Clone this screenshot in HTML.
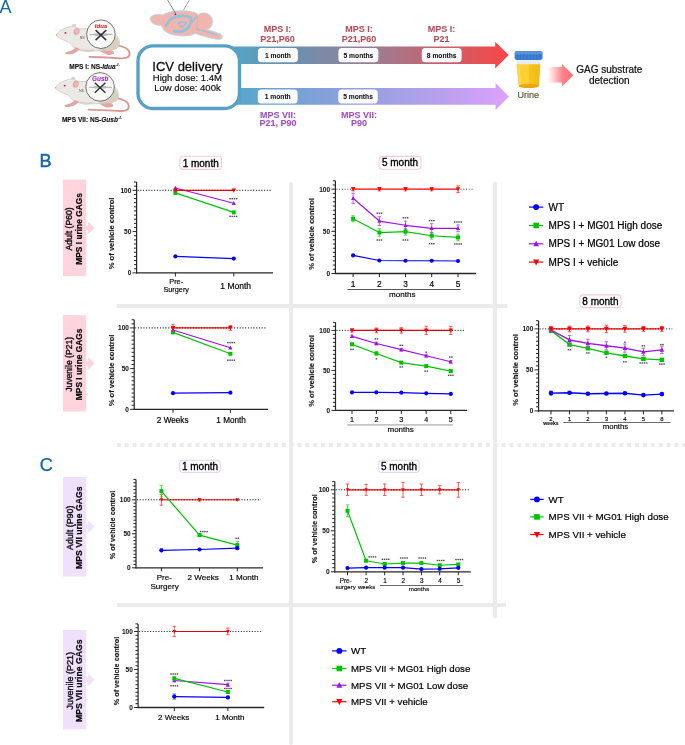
<!DOCTYPE html>
<html><head><meta charset="utf-8"><style>
html,body{margin:0;padding:0;background:#fff;}
svg{display:block;font-family:"Liberation Sans", sans-serif;will-change:transform;}
</style></head><body>
<svg width="685" height="745" viewBox="0 0 685 745">
<rect x="289" y="182" width="4" height="563" rx="2" fill="#ebebeb"/>
<rect x="493" y="182" width="4" height="436" rx="2" fill="#ebebeb"/>
<rect x="117" y="304" width="390" height="4" fill="#ebebeb"/>
<rect x="117" y="603" width="389" height="4" fill="#ebebeb"/>
<line x1="117" y1="445" x2="685" y2="445" stroke="#ebebeb" stroke-width="4" stroke-dasharray="4 3.85"/>
<text x="-0.5" y="13" font-size="18" font-weight="normal" text-anchor="start" fill="#1268a4" stroke="none">A</text>
<text x="39.5" y="166.9" font-size="18" font-weight="normal" text-anchor="start" fill="#1268a4" stroke="#1268a4" stroke-width="0.5">B</text>
<text x="39.8" y="471" font-size="18" font-weight="normal" text-anchor="start" fill="#1268a4" stroke="#1268a4" stroke-width="0.25">C</text>
<rect x="63" y="179.6" width="23.2" height="96.6" fill="#ffd4dd"/>
<polygon points="86.2,225.6 88.2,225.6 88.2,221.6 94.5,227.9 88.2,234.2 88.2,230.2 86.2,230.2" fill="#ffd4dd"/>
<text transform="translate(71.9,228.9) rotate(-90)" font-size="8.6" text-anchor="middle" fill="#111" stroke="#111" stroke-width="0.4">Adult (P60)</text>
<text transform="translate(82.2,228.9) rotate(-90)" x="0" y="0" font-size="8.4" font-weight="bold" text-anchor="middle" fill="#000" stroke="#000" stroke-width="0.18">MPS I urine GAGs</text>
<rect x="63" y="315.2" width="23.2" height="96.3" fill="#ffd4dd"/>
<polygon points="86.2,361.05 88.2,361.05 88.2,357.05 94.5,363.35 88.2,369.65 88.2,365.65 86.2,365.65" fill="#ffd4dd"/>
<text transform="translate(71.9,364.35) rotate(-90)" font-size="8.6" text-anchor="middle" fill="#111" stroke="#111" stroke-width="0.4">Juvenile (P21)</text>
<text transform="translate(82.2,364.35) rotate(-90)" x="0" y="0" font-size="8.4" font-weight="bold" text-anchor="middle" fill="#000" stroke="#000" stroke-width="0.18">MPS I urine GAGs</text>
<rect x="63" y="477" width="23.2" height="99.5" fill="#efe0fc"/>
<polygon points="86.2,524.45 88.2,524.45 88.2,520.45 94.5,526.75 88.2,533.05 88.2,529.05 86.2,529.05" fill="#efe0fc"/>
<text transform="translate(73,527.75) rotate(-90)" font-size="8.9" text-anchor="middle" fill="#111" stroke="#111" stroke-width="0.4">Adult (P90)</text>
<text transform="translate(82.2,527.75) rotate(-90)" x="0" y="0" font-size="8.7" font-weight="bold" text-anchor="middle" fill="#000" stroke="#000" stroke-width="0.18">MPS VII urine GAGs</text>
<rect x="63" y="630" width="23.2" height="99.3" fill="#efe0fc"/>
<polygon points="86.2,677.35 88.2,677.35 88.2,673.35 94.5,679.65 88.2,685.95 88.2,681.95 86.2,681.95" fill="#efe0fc"/>
<text transform="translate(73,680.65) rotate(-90)" font-size="9" text-anchor="middle" fill="#111" stroke="#111" stroke-width="0.4">Juvenile (P21)</text>
<text transform="translate(82.2,680.65) rotate(-90)" x="0" y="0" font-size="8.7" font-weight="bold" text-anchor="middle" fill="#000" stroke="#000" stroke-width="0.18">MPS VII urine GAGs</text>
<rect x="179.85" y="156.3" width="41.7" height="13.1" rx="3.5" fill="#fff" stroke="#ffc9d5" stroke-width="1.1"/>
<text x="200.7" y="166.5" font-size="10" font-weight="normal" text-anchor="middle" fill="#000" stroke="#000" stroke-width="0.33">1 month</text>
<rect x="379" y="156.4" width="42" height="12.9" rx="3.5" fill="#fff" stroke="#ffc9d5" stroke-width="1.1"/>
<text x="400" y="166.4" font-size="10" font-weight="normal" text-anchor="middle" fill="#000" stroke="#000" stroke-width="0.33">5 month</text>
<rect x="579.75" y="294.9" width="41.3" height="12.7" rx="3.5" fill="#fff" stroke="#ffc9d5" stroke-width="1.1"/>
<text x="600.4" y="304.7" font-size="10" font-weight="normal" text-anchor="middle" fill="#000" stroke="#000" stroke-width="0.33">8 month</text>
<rect x="179.75" y="460.3" width="40.5" height="12.2" rx="3.5" fill="#fff" stroke="#e6d2fb" stroke-width="1.1"/>
<text x="200" y="469.6" font-size="10" font-weight="normal" text-anchor="middle" fill="#000" stroke="#000" stroke-width="0.33">1 month</text>
<rect x="378.75" y="460.3" width="40.5" height="12.2" rx="3.5" fill="#fff" stroke="#e6d2fb" stroke-width="1.1"/>
<text x="399" y="469.6" font-size="10" font-weight="normal" text-anchor="middle" fill="#000" stroke="#000" stroke-width="0.33">5 month</text>
<line x1="136.6" y1="182.04" x2="136.6" y2="273.5" stroke="#262626" stroke-width="1.2"/>
<line x1="132.6" y1="272.9" x2="136.6" y2="272.9" stroke="#262626" stroke-width="1"/>
<text x="131.3" y="275.2" font-size="6.5" font-weight="bold" text-anchor="end" fill="#1a1a1a"  stroke="#1a1a1a" stroke-width="0.07">0</text>
<line x1="134" y1="268.77" x2="136.6" y2="268.77" stroke="#262626" stroke-width="1"/>
<line x1="134" y1="264.64" x2="136.6" y2="264.64" stroke="#262626" stroke-width="1"/>
<line x1="134" y1="260.51" x2="136.6" y2="260.51" stroke="#262626" stroke-width="1"/>
<line x1="134" y1="256.38" x2="136.6" y2="256.38" stroke="#262626" stroke-width="1"/>
<line x1="134" y1="252.25" x2="136.6" y2="252.25" stroke="#262626" stroke-width="1"/>
<line x1="134" y1="248.12" x2="136.6" y2="248.12" stroke="#262626" stroke-width="1"/>
<line x1="134" y1="243.99" x2="136.6" y2="243.99" stroke="#262626" stroke-width="1"/>
<line x1="134" y1="239.86" x2="136.6" y2="239.86" stroke="#262626" stroke-width="1"/>
<line x1="134" y1="235.73" x2="136.6" y2="235.73" stroke="#262626" stroke-width="1"/>
<line x1="132.6" y1="231.6" x2="136.6" y2="231.6" stroke="#262626" stroke-width="1"/>
<text x="131.3" y="233.9" font-size="6.5" font-weight="bold" text-anchor="end" fill="#1a1a1a"  stroke="#1a1a1a" stroke-width="0.07">50</text>
<line x1="134" y1="227.47" x2="136.6" y2="227.47" stroke="#262626" stroke-width="1"/>
<line x1="134" y1="223.34" x2="136.6" y2="223.34" stroke="#262626" stroke-width="1"/>
<line x1="134" y1="219.21" x2="136.6" y2="219.21" stroke="#262626" stroke-width="1"/>
<line x1="134" y1="215.08" x2="136.6" y2="215.08" stroke="#262626" stroke-width="1"/>
<line x1="134" y1="210.95" x2="136.6" y2="210.95" stroke="#262626" stroke-width="1"/>
<line x1="134" y1="206.82" x2="136.6" y2="206.82" stroke="#262626" stroke-width="1"/>
<line x1="134" y1="202.69" x2="136.6" y2="202.69" stroke="#262626" stroke-width="1"/>
<line x1="134" y1="198.56" x2="136.6" y2="198.56" stroke="#262626" stroke-width="1"/>
<line x1="134" y1="194.43" x2="136.6" y2="194.43" stroke="#262626" stroke-width="1"/>
<line x1="132.6" y1="190.3" x2="136.6" y2="190.3" stroke="#262626" stroke-width="1"/>
<text x="131.3" y="192.6" font-size="6.5" font-weight="bold" text-anchor="end" fill="#1a1a1a"  stroke="#1a1a1a" stroke-width="0.07">100</text>
<line x1="134" y1="186.17" x2="136.6" y2="186.17" stroke="#262626" stroke-width="1"/>
<line x1="134" y1="182.04" x2="136.6" y2="182.04" stroke="#262626" stroke-width="1"/>
<line x1="136" y1="272.9" x2="273" y2="272.9" stroke="#262626" stroke-width="1.3"/>
<line x1="175.4" y1="272.9" x2="175.4" y2="276.4" stroke="#262626" stroke-width="1"/>
<line x1="233.8" y1="272.9" x2="233.8" y2="276.4" stroke="#262626" stroke-width="1"/>
<line x1="137.6" y1="190.3" x2="271.2" y2="190.3" stroke="#222" stroke-width="0.9" stroke-dasharray="1 1.75"/>
<polyline points="175.4,256.46 233.8,258.53" fill="none" stroke="#0000ff" stroke-width="1.2" stroke-linejoin="round"/>
<circle cx="175.4" cy="256.46" r="2.1" fill="#0000ff"/>
<circle cx="233.8" cy="258.53" r="2.1" fill="#0000ff"/>
<polyline points="175.4,192.94 233.8,212.35" fill="none" stroke="#00c400" stroke-width="1.2" stroke-linejoin="round"/>
<rect x="173.4" y="190.94" width="4" height="4" fill="#00c400"/>
<rect x="231.8" y="210.35" width="4" height="4" fill="#00c400"/>
<polyline points="175.4,187.99 233.8,203.27" fill="none" stroke="#a010e8" stroke-width="1.2" stroke-linejoin="round"/>
<polygon points="175.4,185.73 173.35,189.73 177.45,189.73" fill="#a010e8"/>
<polygon points="233.8,201.01 231.75,205.01 235.85,205.01" fill="#a010e8"/>
<polyline points="175.4,190.3 233.8,190.3" fill="none" stroke="#ff0000" stroke-width="1.2" stroke-linejoin="round"/>
<polygon points="175.4,192.72 173.2,188.43 177.6,188.43" fill="#ff0000"/>
<polygon points="233.8,192.72 231.6,188.43 236,188.43" fill="#ff0000"/>
<line x1="137.6" y1="190.3" x2="271.2" y2="190.3" stroke="#222" opacity="0.5249999999999999" stroke-width="0.9" stroke-dasharray="1 1.75"/>
<rect x="229.33" y="198" width="1.5" height="1.4" fill="#4d4d4d"/>
<rect x="231.48" y="198" width="1.5" height="1.4" fill="#4d4d4d"/>
<rect x="233.63" y="198" width="1.5" height="1.4" fill="#4d4d4d"/>
<rect x="235.78" y="198" width="1.5" height="1.4" fill="#4d4d4d"/>
<rect x="229.33" y="215.7" width="1.5" height="1.4" fill="#4d4d4d"/>
<rect x="231.48" y="215.7" width="1.5" height="1.4" fill="#4d4d4d"/>
<rect x="233.63" y="215.7" width="1.5" height="1.4" fill="#4d4d4d"/>
<rect x="235.78" y="215.7" width="1.5" height="1.4" fill="#4d4d4d"/>
<text transform="translate(113.9,233.4) rotate(-90)" x="0" y="0" font-size="7.6" font-weight="bold" text-anchor="middle" fill="#1a1a1a" stroke="#1a1a1a" stroke-width="0.18">% of vehicle control</text>
<text x="176.2" y="283.6" font-size="7.3" font-weight="normal" text-anchor="middle" fill="#000"  stroke="#000" stroke-width="0.16">Pre-</text>
<text x="176.2" y="291.5" font-size="7.3" font-weight="normal" text-anchor="middle" fill="#000"  stroke="#000" stroke-width="0.16">Surgery</text>
<text x="235.7" y="288.5" font-size="8.5" font-weight="normal" text-anchor="middle" fill="#000"  stroke="#000" stroke-width="0.19">1 Month</text>
<line x1="335.4" y1="180.77" x2="335.4" y2="274.1" stroke="#262626" stroke-width="1.2"/>
<line x1="331.4" y1="273.5" x2="335.4" y2="273.5" stroke="#262626" stroke-width="1"/>
<text x="330.1" y="275.8" font-size="6.5" font-weight="bold" text-anchor="end" fill="#1a1a1a"  stroke="#1a1a1a" stroke-width="0.07">0</text>
<line x1="332.8" y1="269.29" x2="335.4" y2="269.29" stroke="#262626" stroke-width="1"/>
<line x1="332.8" y1="265.07" x2="335.4" y2="265.07" stroke="#262626" stroke-width="1"/>
<line x1="332.8" y1="260.86" x2="335.4" y2="260.86" stroke="#262626" stroke-width="1"/>
<line x1="332.8" y1="256.64" x2="335.4" y2="256.64" stroke="#262626" stroke-width="1"/>
<line x1="332.8" y1="252.43" x2="335.4" y2="252.43" stroke="#262626" stroke-width="1"/>
<line x1="332.8" y1="248.21" x2="335.4" y2="248.21" stroke="#262626" stroke-width="1"/>
<line x1="332.8" y1="244" x2="335.4" y2="244" stroke="#262626" stroke-width="1"/>
<line x1="332.8" y1="239.78" x2="335.4" y2="239.78" stroke="#262626" stroke-width="1"/>
<line x1="332.8" y1="235.56" x2="335.4" y2="235.56" stroke="#262626" stroke-width="1"/>
<line x1="331.4" y1="231.35" x2="335.4" y2="231.35" stroke="#262626" stroke-width="1"/>
<text x="330.1" y="233.65" font-size="6.5" font-weight="bold" text-anchor="end" fill="#1a1a1a"  stroke="#1a1a1a" stroke-width="0.07">50</text>
<line x1="332.8" y1="227.13" x2="335.4" y2="227.13" stroke="#262626" stroke-width="1"/>
<line x1="332.8" y1="222.92" x2="335.4" y2="222.92" stroke="#262626" stroke-width="1"/>
<line x1="332.8" y1="218.7" x2="335.4" y2="218.7" stroke="#262626" stroke-width="1"/>
<line x1="332.8" y1="214.49" x2="335.4" y2="214.49" stroke="#262626" stroke-width="1"/>
<line x1="332.8" y1="210.28" x2="335.4" y2="210.28" stroke="#262626" stroke-width="1"/>
<line x1="332.8" y1="206.06" x2="335.4" y2="206.06" stroke="#262626" stroke-width="1"/>
<line x1="332.8" y1="201.84" x2="335.4" y2="201.84" stroke="#262626" stroke-width="1"/>
<line x1="332.8" y1="197.63" x2="335.4" y2="197.63" stroke="#262626" stroke-width="1"/>
<line x1="332.8" y1="193.42" x2="335.4" y2="193.42" stroke="#262626" stroke-width="1"/>
<line x1="331.4" y1="189.2" x2="335.4" y2="189.2" stroke="#262626" stroke-width="1"/>
<text x="330.1" y="191.5" font-size="6.5" font-weight="bold" text-anchor="end" fill="#1a1a1a"  stroke="#1a1a1a" stroke-width="0.07">100</text>
<line x1="332.8" y1="184.99" x2="335.4" y2="184.99" stroke="#262626" stroke-width="1"/>
<line x1="332.8" y1="180.77" x2="335.4" y2="180.77" stroke="#262626" stroke-width="1"/>
<line x1="334.8" y1="273.5" x2="476" y2="273.5" stroke="#262626" stroke-width="1.3"/>
<line x1="353.1" y1="273.5" x2="353.1" y2="277" stroke="#262626" stroke-width="1"/>
<line x1="379.4" y1="273.5" x2="379.4" y2="277" stroke="#262626" stroke-width="1"/>
<line x1="405.5" y1="273.5" x2="405.5" y2="277" stroke="#262626" stroke-width="1"/>
<line x1="431.7" y1="273.5" x2="431.7" y2="277" stroke="#262626" stroke-width="1"/>
<line x1="458" y1="273.5" x2="458" y2="277" stroke="#262626" stroke-width="1"/>
<line x1="336.4" y1="189.2" x2="351.1" y2="189.2" stroke="#222" stroke-width="0.9" stroke-dasharray="1 1.75"/>
<line x1="460.5" y1="189.2" x2="474" y2="189.2" stroke="#222" stroke-width="0.9" stroke-dasharray="1 1.75"/>
<polyline points="353.1,255.46 379.4,260.52 405.5,260.77 431.7,260.77 458,261.02" fill="none" stroke="#0000ff" stroke-width="1.2" stroke-linejoin="round"/>
<circle cx="353.1" cy="255.46" r="2.1" fill="#0000ff"/>
<circle cx="379.4" cy="260.52" r="2.1" fill="#0000ff"/>
<circle cx="405.5" cy="260.77" r="2.1" fill="#0000ff"/>
<circle cx="431.7" cy="260.77" r="2.1" fill="#0000ff"/>
<circle cx="458" cy="261.02" r="2.1" fill="#0000ff"/>
<path d="M353.1 215.75V221.82M351.4 215.75H354.8M351.4 221.82H354.8" stroke="#30cc30" stroke-width="0.8" fill="none"/>
<path d="M379.4 228.82V236.24M377.7 228.82H381.1M377.7 236.24H381.1" stroke="#30cc30" stroke-width="0.8" fill="none"/>
<path d="M405.5 228.32V235.06M403.8 228.32H407.2M403.8 235.06H407.2" stroke="#30cc30" stroke-width="0.8" fill="none"/>
<path d="M431.7 232.36V239.11M430 232.36H433.4M430 239.11H433.4" stroke="#30cc30" stroke-width="0.8" fill="none"/>
<path d="M458 234.05V240.79M456.3 234.05H459.7M456.3 240.79H459.7" stroke="#30cc30" stroke-width="0.8" fill="none"/>
<polyline points="353.1,218.79 379.4,232.53 405.5,231.69 431.7,235.73 458,237.42" fill="none" stroke="#00c400" stroke-width="1.2" stroke-linejoin="round"/>
<rect x="351.1" y="216.79" width="4" height="4" fill="#00c400"/>
<rect x="377.4" y="230.53" width="4" height="4" fill="#00c400"/>
<rect x="403.5" y="229.69" width="4" height="4" fill="#00c400"/>
<rect x="429.7" y="233.73" width="4" height="4" fill="#00c400"/>
<rect x="456" y="235.42" width="4" height="4" fill="#00c400"/>
<path d="M353.1 193.25V203.36M351.4 193.25H354.8M351.4 203.36H354.8" stroke="#b040ee" stroke-width="0.8" fill="none"/>
<path d="M379.4 216.68V225.45M377.7 216.68H381.1M377.7 225.45H381.1" stroke="#b040ee" stroke-width="0.8" fill="none"/>
<path d="M405.5 221.07V229.5M403.8 221.07H407.2M403.8 229.5H407.2" stroke="#b040ee" stroke-width="0.8" fill="none"/>
<path d="M431.7 223.68V232.95M430 223.68H433.4M430 232.95H433.4" stroke="#b040ee" stroke-width="0.8" fill="none"/>
<path d="M458 224.94V231.69M456.3 224.94H459.7M456.3 231.69H459.7" stroke="#b040ee" stroke-width="0.8" fill="none"/>
<polyline points="353.1,198.3 379.4,221.07 405.5,225.28 431.7,228.32 458,228.32" fill="none" stroke="#a010e8" stroke-width="1.2" stroke-linejoin="round"/>
<polygon points="353.1,196.05 351.05,200.05 355.15,200.05" fill="#a010e8"/>
<polygon points="379.4,218.81 377.35,222.81 381.45,222.81" fill="#a010e8"/>
<polygon points="405.5,223.03 403.45,227.02 407.55,227.02" fill="#a010e8"/>
<polygon points="431.7,226.06 429.65,230.06 433.75,230.06" fill="#a010e8"/>
<polygon points="458,226.06 455.95,230.06 460.05,230.06" fill="#a010e8"/>
<path d="M353.1 187.51V190.89M351.4 187.51H354.8M351.4 190.89H354.8" stroke="#ff3030" stroke-width="0.8" fill="none"/>
<path d="M379.4 187.51V190.89M377.7 187.51H381.1M377.7 190.89H381.1" stroke="#ff3030" stroke-width="0.8" fill="none"/>
<path d="M405.5 187.51V190.89M403.8 187.51H407.2M403.8 190.89H407.2" stroke="#ff3030" stroke-width="0.8" fill="none"/>
<path d="M431.7 187.51V190.89M430 187.51H433.4M430 190.89H433.4" stroke="#ff3030" stroke-width="0.8" fill="none"/>
<path d="M458 185.83V192.57M456.3 185.83H459.7M456.3 192.57H459.7" stroke="#ff3030" stroke-width="0.8" fill="none"/>
<polyline points="353.1,189.2 379.4,189.2 405.5,189.2 431.7,189.2 458,189.2" fill="none" stroke="#ff0000" stroke-width="1.2" stroke-linejoin="round"/>
<polygon points="353.1,191.62 350.9,187.33 355.3,187.33" fill="#ff0000"/>
<polygon points="379.4,191.62 377.2,187.33 381.6,187.33" fill="#ff0000"/>
<polygon points="405.5,191.62 403.3,187.33 407.7,187.33" fill="#ff0000"/>
<polygon points="431.7,191.62 429.5,187.33 433.9,187.33" fill="#ff0000"/>
<polygon points="458,191.62 455.8,187.33 460.2,187.33" fill="#ff0000"/>
<rect x="376.5" y="212.5" width="1.5" height="1.4" fill="#4d4d4d"/>
<rect x="378.65" y="212.5" width="1.5" height="1.4" fill="#4d4d4d"/>
<rect x="380.8" y="212.5" width="1.5" height="1.4" fill="#4d4d4d"/>
<rect x="402.6" y="217.1" width="1.5" height="1.4" fill="#4d4d4d"/>
<rect x="404.75" y="217.1" width="1.5" height="1.4" fill="#4d4d4d"/>
<rect x="406.9" y="217.1" width="1.5" height="1.4" fill="#4d4d4d"/>
<rect x="428.8" y="219.9" width="1.5" height="1.4" fill="#4d4d4d"/>
<rect x="430.95" y="219.9" width="1.5" height="1.4" fill="#4d4d4d"/>
<rect x="433.1" y="219.9" width="1.5" height="1.4" fill="#4d4d4d"/>
<rect x="454.02" y="221.3" width="1.5" height="1.4" fill="#4d4d4d"/>
<rect x="456.17" y="221.3" width="1.5" height="1.4" fill="#4d4d4d"/>
<rect x="458.32" y="221.3" width="1.5" height="1.4" fill="#4d4d4d"/>
<rect x="460.47" y="221.3" width="1.5" height="1.4" fill="#4d4d4d"/>
<rect x="376.5" y="239.3" width="1.5" height="1.4" fill="#4d4d4d"/>
<rect x="378.65" y="239.3" width="1.5" height="1.4" fill="#4d4d4d"/>
<rect x="380.8" y="239.3" width="1.5" height="1.4" fill="#4d4d4d"/>
<rect x="402.6" y="239.3" width="1.5" height="1.4" fill="#4d4d4d"/>
<rect x="404.75" y="239.3" width="1.5" height="1.4" fill="#4d4d4d"/>
<rect x="406.9" y="239.3" width="1.5" height="1.4" fill="#4d4d4d"/>
<rect x="428.8" y="243" width="1.5" height="1.4" fill="#4d4d4d"/>
<rect x="430.95" y="243" width="1.5" height="1.4" fill="#4d4d4d"/>
<rect x="433.1" y="243" width="1.5" height="1.4" fill="#4d4d4d"/>
<rect x="454.02" y="243.3" width="1.5" height="1.4" fill="#4d4d4d"/>
<rect x="456.17" y="243.3" width="1.5" height="1.4" fill="#4d4d4d"/>
<rect x="458.32" y="243.3" width="1.5" height="1.4" fill="#4d4d4d"/>
<rect x="460.47" y="243.3" width="1.5" height="1.4" fill="#4d4d4d"/>
<text transform="translate(314.3,234) rotate(-90)" x="0" y="0" font-size="7.6" font-weight="bold" text-anchor="middle" fill="#1a1a1a" stroke="#1a1a1a" stroke-width="0.18">% of vehicle control</text>
<text x="353.1" y="286.6" font-size="8.3" font-weight="normal" text-anchor="middle" fill="#000"  stroke="#000" stroke-width="0.18">1</text>
<text x="379.4" y="286.6" font-size="8.3" font-weight="normal" text-anchor="middle" fill="#000"  stroke="#000" stroke-width="0.18">2</text>
<text x="405.5" y="286.6" font-size="8.3" font-weight="normal" text-anchor="middle" fill="#000"  stroke="#000" stroke-width="0.18">3</text>
<text x="431.7" y="286.6" font-size="8.3" font-weight="normal" text-anchor="middle" fill="#000"  stroke="#000" stroke-width="0.18">4</text>
<text x="458" y="286.6" font-size="8.3" font-weight="normal" text-anchor="middle" fill="#000"  stroke="#000" stroke-width="0.18">5</text>
<line x1="347.5" y1="289.5" x2="460.5" y2="289.5" stroke="#444" stroke-width="0.9"/>
<text x="402.2" y="297.1" font-size="8.1" font-weight="normal" text-anchor="middle" fill="#000"  stroke="#000" stroke-width="0.18">months</text>
<line x1="134.2" y1="319.76" x2="134.2" y2="409.9" stroke="#262626" stroke-width="1.2"/>
<line x1="130.2" y1="409.3" x2="134.2" y2="409.3" stroke="#262626" stroke-width="1"/>
<text x="128.9" y="411.6" font-size="6.5" font-weight="bold" text-anchor="end" fill="#1a1a1a"  stroke="#1a1a1a" stroke-width="0.07">0</text>
<line x1="131.6" y1="405.23" x2="134.2" y2="405.23" stroke="#262626" stroke-width="1"/>
<line x1="131.6" y1="401.16" x2="134.2" y2="401.16" stroke="#262626" stroke-width="1"/>
<line x1="131.6" y1="397.09" x2="134.2" y2="397.09" stroke="#262626" stroke-width="1"/>
<line x1="131.6" y1="393.02" x2="134.2" y2="393.02" stroke="#262626" stroke-width="1"/>
<line x1="131.6" y1="388.95" x2="134.2" y2="388.95" stroke="#262626" stroke-width="1"/>
<line x1="131.6" y1="384.88" x2="134.2" y2="384.88" stroke="#262626" stroke-width="1"/>
<line x1="131.6" y1="380.81" x2="134.2" y2="380.81" stroke="#262626" stroke-width="1"/>
<line x1="131.6" y1="376.74" x2="134.2" y2="376.74" stroke="#262626" stroke-width="1"/>
<line x1="131.6" y1="372.67" x2="134.2" y2="372.67" stroke="#262626" stroke-width="1"/>
<line x1="130.2" y1="368.6" x2="134.2" y2="368.6" stroke="#262626" stroke-width="1"/>
<text x="128.9" y="370.9" font-size="6.5" font-weight="bold" text-anchor="end" fill="#1a1a1a"  stroke="#1a1a1a" stroke-width="0.07">50</text>
<line x1="131.6" y1="364.53" x2="134.2" y2="364.53" stroke="#262626" stroke-width="1"/>
<line x1="131.6" y1="360.46" x2="134.2" y2="360.46" stroke="#262626" stroke-width="1"/>
<line x1="131.6" y1="356.39" x2="134.2" y2="356.39" stroke="#262626" stroke-width="1"/>
<line x1="131.6" y1="352.32" x2="134.2" y2="352.32" stroke="#262626" stroke-width="1"/>
<line x1="131.6" y1="348.25" x2="134.2" y2="348.25" stroke="#262626" stroke-width="1"/>
<line x1="131.6" y1="344.18" x2="134.2" y2="344.18" stroke="#262626" stroke-width="1"/>
<line x1="131.6" y1="340.11" x2="134.2" y2="340.11" stroke="#262626" stroke-width="1"/>
<line x1="131.6" y1="336.04" x2="134.2" y2="336.04" stroke="#262626" stroke-width="1"/>
<line x1="131.6" y1="331.97" x2="134.2" y2="331.97" stroke="#262626" stroke-width="1"/>
<line x1="130.2" y1="327.9" x2="134.2" y2="327.9" stroke="#262626" stroke-width="1"/>
<text x="128.9" y="330.2" font-size="6.5" font-weight="bold" text-anchor="end" fill="#1a1a1a"  stroke="#1a1a1a" stroke-width="0.07">100</text>
<line x1="131.6" y1="323.83" x2="134.2" y2="323.83" stroke="#262626" stroke-width="1"/>
<line x1="131.6" y1="319.76" x2="134.2" y2="319.76" stroke="#262626" stroke-width="1"/>
<line x1="133.6" y1="409.3" x2="268.2" y2="409.3" stroke="#262626" stroke-width="1.3"/>
<line x1="173" y1="409.3" x2="173" y2="412.8" stroke="#262626" stroke-width="1"/>
<line x1="230.4" y1="409.3" x2="230.4" y2="412.8" stroke="#262626" stroke-width="1"/>
<line x1="135.2" y1="327.9" x2="266" y2="327.9" stroke="#222" stroke-width="0.9" stroke-dasharray="1 1.75"/>
<polyline points="173,393.18 230.4,392.69" fill="none" stroke="#0000ff" stroke-width="1.2" stroke-linejoin="round"/>
<circle cx="173" cy="393.18" r="2.1" fill="#0000ff"/>
<circle cx="230.4" cy="392.69" r="2.1" fill="#0000ff"/>
<polyline points="173,332.38 230.4,353.79" fill="none" stroke="#00c400" stroke-width="1.2" stroke-linejoin="round"/>
<rect x="171" y="330.38" width="4" height="4" fill="#00c400"/>
<rect x="228.4" y="351.79" width="4" height="4" fill="#00c400"/>
<polyline points="173,330.02 230.4,347.76" fill="none" stroke="#a010e8" stroke-width="1.2" stroke-linejoin="round"/>
<polygon points="173,327.76 170.95,331.76 175.05,331.76" fill="#a010e8"/>
<polygon points="230.4,345.51 228.35,349.5 232.45,349.5" fill="#a010e8"/>
<path d="M173 324.24V331.56M171.3 324.24H174.7M171.3 331.56H174.7" stroke="#ff3030" stroke-width="0.8" fill="none"/>
<path d="M230.4 325.46V330.34M228.7 325.46H232.1M228.7 330.34H232.1" stroke="#ff3030" stroke-width="0.8" fill="none"/>
<polyline points="173,327.9 230.4,327.9" fill="none" stroke="#ff0000" stroke-width="1.2" stroke-linejoin="round"/>
<polygon points="173,330.32 170.8,326.03 175.2,326.03" fill="#ff0000"/>
<polygon points="230.4,330.32 228.2,326.03 232.6,326.03" fill="#ff0000"/>
<line x1="135.2" y1="327.9" x2="266" y2="327.9" stroke="#222" opacity="0.5249999999999999" stroke-width="0.9" stroke-dasharray="1 1.75"/>
<rect x="227.12" y="341.9" width="1.5" height="1.4" fill="#4d4d4d"/>
<rect x="229.28" y="341.9" width="1.5" height="1.4" fill="#4d4d4d"/>
<rect x="231.43" y="341.9" width="1.5" height="1.4" fill="#4d4d4d"/>
<rect x="233.57" y="341.9" width="1.5" height="1.4" fill="#4d4d4d"/>
<rect x="227.12" y="359.5" width="1.5" height="1.4" fill="#4d4d4d"/>
<rect x="229.28" y="359.5" width="1.5" height="1.4" fill="#4d4d4d"/>
<rect x="231.43" y="359.5" width="1.5" height="1.4" fill="#4d4d4d"/>
<rect x="233.57" y="359.5" width="1.5" height="1.4" fill="#4d4d4d"/>
<text transform="translate(113.9,370.5) rotate(-90)" x="0" y="0" font-size="7.6" font-weight="bold" text-anchor="middle" fill="#1a1a1a" stroke="#1a1a1a" stroke-width="0.18">% of vehicle control</text>
<text x="172.7" y="422.5" font-size="8.2" font-weight="normal" text-anchor="middle" fill="#000"  stroke="#000" stroke-width="0.18">2 Weeks</text>
<text x="231.1" y="422.5" font-size="8.2" font-weight="normal" text-anchor="middle" fill="#000"  stroke="#000" stroke-width="0.18">1 Month</text>
<line x1="335.5" y1="322.4" x2="335.5" y2="411" stroke="#262626" stroke-width="1.2"/>
<line x1="331.5" y1="410.4" x2="335.5" y2="410.4" stroke="#262626" stroke-width="1"/>
<text x="330.2" y="412.7" font-size="6.5" font-weight="bold" text-anchor="end" fill="#1a1a1a"  stroke="#1a1a1a" stroke-width="0.07">0</text>
<line x1="332.9" y1="406.4" x2="335.5" y2="406.4" stroke="#262626" stroke-width="1"/>
<line x1="332.9" y1="402.4" x2="335.5" y2="402.4" stroke="#262626" stroke-width="1"/>
<line x1="332.9" y1="398.4" x2="335.5" y2="398.4" stroke="#262626" stroke-width="1"/>
<line x1="332.9" y1="394.4" x2="335.5" y2="394.4" stroke="#262626" stroke-width="1"/>
<line x1="332.9" y1="390.4" x2="335.5" y2="390.4" stroke="#262626" stroke-width="1"/>
<line x1="332.9" y1="386.4" x2="335.5" y2="386.4" stroke="#262626" stroke-width="1"/>
<line x1="332.9" y1="382.4" x2="335.5" y2="382.4" stroke="#262626" stroke-width="1"/>
<line x1="332.9" y1="378.4" x2="335.5" y2="378.4" stroke="#262626" stroke-width="1"/>
<line x1="332.9" y1="374.4" x2="335.5" y2="374.4" stroke="#262626" stroke-width="1"/>
<line x1="331.5" y1="370.4" x2="335.5" y2="370.4" stroke="#262626" stroke-width="1"/>
<text x="330.2" y="372.7" font-size="6.5" font-weight="bold" text-anchor="end" fill="#1a1a1a"  stroke="#1a1a1a" stroke-width="0.07">50</text>
<line x1="332.9" y1="366.4" x2="335.5" y2="366.4" stroke="#262626" stroke-width="1"/>
<line x1="332.9" y1="362.4" x2="335.5" y2="362.4" stroke="#262626" stroke-width="1"/>
<line x1="332.9" y1="358.4" x2="335.5" y2="358.4" stroke="#262626" stroke-width="1"/>
<line x1="332.9" y1="354.4" x2="335.5" y2="354.4" stroke="#262626" stroke-width="1"/>
<line x1="332.9" y1="350.4" x2="335.5" y2="350.4" stroke="#262626" stroke-width="1"/>
<line x1="332.9" y1="346.4" x2="335.5" y2="346.4" stroke="#262626" stroke-width="1"/>
<line x1="332.9" y1="342.4" x2="335.5" y2="342.4" stroke="#262626" stroke-width="1"/>
<line x1="332.9" y1="338.4" x2="335.5" y2="338.4" stroke="#262626" stroke-width="1"/>
<line x1="332.9" y1="334.4" x2="335.5" y2="334.4" stroke="#262626" stroke-width="1"/>
<line x1="331.5" y1="330.4" x2="335.5" y2="330.4" stroke="#262626" stroke-width="1"/>
<text x="330.2" y="332.7" font-size="6.5" font-weight="bold" text-anchor="end" fill="#1a1a1a"  stroke="#1a1a1a" stroke-width="0.07">100</text>
<line x1="332.9" y1="326.4" x2="335.5" y2="326.4" stroke="#262626" stroke-width="1"/>
<line x1="332.9" y1="322.4" x2="335.5" y2="322.4" stroke="#262626" stroke-width="1"/>
<line x1="334.9" y1="410.4" x2="467.1" y2="410.4" stroke="#262626" stroke-width="1.3"/>
<line x1="352" y1="410.4" x2="352" y2="413.9" stroke="#262626" stroke-width="1"/>
<line x1="376.4" y1="410.4" x2="376.4" y2="413.9" stroke="#262626" stroke-width="1"/>
<line x1="401.3" y1="410.4" x2="401.3" y2="413.9" stroke="#262626" stroke-width="1"/>
<line x1="426.2" y1="410.4" x2="426.2" y2="413.9" stroke="#262626" stroke-width="1"/>
<line x1="450.8" y1="410.4" x2="450.8" y2="413.9" stroke="#262626" stroke-width="1"/>
<line x1="336.5" y1="330.4" x2="465.1" y2="330.4" stroke="#222" stroke-width="0.9" stroke-dasharray="1 1.75"/>
<polyline points="352,392.4 376.4,392.4 401.3,392.64 426.2,393.28 450.8,393.92" fill="none" stroke="#0000ff" stroke-width="1.2" stroke-linejoin="round"/>
<circle cx="352" cy="392.4" r="2.1" fill="#0000ff"/>
<circle cx="376.4" cy="392.4" r="2.1" fill="#0000ff"/>
<circle cx="401.3" cy="392.64" r="2.1" fill="#0000ff"/>
<circle cx="426.2" cy="393.28" r="2.1" fill="#0000ff"/>
<circle cx="450.8" cy="393.92" r="2.1" fill="#0000ff"/>
<path d="M352 343.12V345.52M350.3 343.12H353.7M350.3 345.52H353.7" stroke="#30cc30" stroke-width="0.8" fill="none"/>
<path d="M376.4 351.84V355.04M374.7 351.84H378.1M374.7 355.04H378.1" stroke="#30cc30" stroke-width="0.8" fill="none"/>
<path d="M401.3 361.44V363.84M399.6 361.44H403M399.6 363.84H403" stroke="#30cc30" stroke-width="0.8" fill="none"/>
<path d="M426.2 364.96V367.36M424.5 364.96H427.9M424.5 367.36H427.9" stroke="#30cc30" stroke-width="0.8" fill="none"/>
<path d="M450.8 369.92V372.32M449.1 369.92H452.5M449.1 372.32H452.5" stroke="#30cc30" stroke-width="0.8" fill="none"/>
<polyline points="352,344.32 376.4,353.44 401.3,362.64 426.2,366.16 450.8,371.12" fill="none" stroke="#00c400" stroke-width="1.2" stroke-linejoin="round"/>
<rect x="350" y="342.32" width="4" height="4" fill="#00c400"/>
<rect x="374.4" y="351.44" width="4" height="4" fill="#00c400"/>
<rect x="399.3" y="360.64" width="4" height="4" fill="#00c400"/>
<rect x="424.2" y="364.16" width="4" height="4" fill="#00c400"/>
<rect x="448.8" y="369.12" width="4" height="4" fill="#00c400"/>
<path d="M352 335.12V337.52M350.3 335.12H353.7M350.3 337.52H353.7" stroke="#b040ee" stroke-width="0.8" fill="none"/>
<path d="M376.4 342.32V344.72M374.7 342.32H378.1M374.7 344.72H378.1" stroke="#b040ee" stroke-width="0.8" fill="none"/>
<path d="M401.3 348.48V350.88M399.6 348.48H403M399.6 350.88H403" stroke="#b040ee" stroke-width="0.8" fill="none"/>
<path d="M426.2 354.56V356.96M424.5 354.56H427.9M424.5 356.96H427.9" stroke="#b040ee" stroke-width="0.8" fill="none"/>
<path d="M450.8 360.56V362.96M449.1 360.56H452.5M449.1 362.96H452.5" stroke="#b040ee" stroke-width="0.8" fill="none"/>
<polyline points="352,336.32 376.4,343.52 401.3,349.68 426.2,355.76 450.8,361.76" fill="none" stroke="#a010e8" stroke-width="1.2" stroke-linejoin="round"/>
<polygon points="352,334.06 349.95,338.06 354.05,338.06" fill="#a010e8"/>
<polygon points="376.4,341.26 374.35,345.26 378.45,345.26" fill="#a010e8"/>
<polygon points="401.3,347.42 399.25,351.42 403.35,351.42" fill="#a010e8"/>
<polygon points="426.2,353.5 424.15,357.5 428.25,357.5" fill="#a010e8"/>
<polygon points="450.8,359.5 448.75,363.5 452.85,363.5" fill="#a010e8"/>
<path d="M352 328.8V332M350.3 328.8H353.7M350.3 332H353.7" stroke="#ff3030" stroke-width="0.8" fill="none"/>
<path d="M376.4 328V332.8M374.7 328H378.1M374.7 332.8H378.1" stroke="#ff3030" stroke-width="0.8" fill="none"/>
<path d="M401.3 327.68V333.12M399.6 327.68H403M399.6 333.12H403" stroke="#ff3030" stroke-width="0.8" fill="none"/>
<path d="M426.2 326.24V334.56M424.5 326.24H427.9M424.5 334.56H427.9" stroke="#ff3030" stroke-width="0.8" fill="none"/>
<path d="M450.8 326.4V334.4M449.1 326.4H452.5M449.1 334.4H452.5" stroke="#ff3030" stroke-width="0.8" fill="none"/>
<polyline points="352,330.4 376.4,330.4 401.3,330.4 426.2,330.4 450.8,330.4" fill="none" stroke="#ff0000" stroke-width="1.2" stroke-linejoin="round"/>
<polygon points="352,332.82 349.8,328.53 354.2,328.53" fill="#ff0000"/>
<polygon points="376.4,332.82 374.2,328.53 378.6,328.53" fill="#ff0000"/>
<polygon points="401.3,332.82 399.1,328.53 403.5,328.53" fill="#ff0000"/>
<polygon points="426.2,332.82 424,328.53 428.4,328.53" fill="#ff0000"/>
<polygon points="450.8,332.82 448.6,328.53 453,328.53" fill="#ff0000"/>
<line x1="336.5" y1="330.4" x2="465.1" y2="330.4" stroke="#222" opacity="0.5249999999999999" stroke-width="0.9" stroke-dasharray="1 1.75"/>
<rect x="374.57" y="338.2" width="1.5" height="1.4" fill="#4d4d4d"/>
<rect x="376.72" y="338.2" width="1.5" height="1.4" fill="#4d4d4d"/>
<rect x="399.48" y="344.6" width="1.5" height="1.4" fill="#4d4d4d"/>
<rect x="401.62" y="344.6" width="1.5" height="1.4" fill="#4d4d4d"/>
<rect x="425.45" y="351.5" width="1.5" height="1.4" fill="#4d4d4d"/>
<rect x="448.98" y="356.4" width="1.5" height="1.4" fill="#4d4d4d"/>
<rect x="451.12" y="356.4" width="1.5" height="1.4" fill="#4d4d4d"/>
<rect x="350.18" y="348.7" width="1.5" height="1.4" fill="#4d4d4d"/>
<rect x="352.32" y="348.7" width="1.5" height="1.4" fill="#4d4d4d"/>
<rect x="375.65" y="358.1" width="1.5" height="1.4" fill="#4d4d4d"/>
<rect x="399.48" y="366.2" width="1.5" height="1.4" fill="#4d4d4d"/>
<rect x="401.62" y="366.2" width="1.5" height="1.4" fill="#4d4d4d"/>
<rect x="424.38" y="370.4" width="1.5" height="1.4" fill="#4d4d4d"/>
<rect x="426.52" y="370.4" width="1.5" height="1.4" fill="#4d4d4d"/>
<rect x="447.9" y="374.6" width="1.5" height="1.4" fill="#4d4d4d"/>
<rect x="450.05" y="374.6" width="1.5" height="1.4" fill="#4d4d4d"/>
<rect x="452.2" y="374.6" width="1.5" height="1.4" fill="#4d4d4d"/>
<text transform="translate(313.9,371) rotate(-90)" x="0" y="0" font-size="7.6" font-weight="bold" text-anchor="middle" fill="#1a1a1a" stroke="#1a1a1a" stroke-width="0.18">% of vehicle control</text>
<text x="352" y="421.8" font-size="7.2" font-weight="normal" text-anchor="middle" fill="#000"  stroke="#000" stroke-width="0.16">1</text>
<text x="376.4" y="421.8" font-size="7.2" font-weight="normal" text-anchor="middle" fill="#000"  stroke="#000" stroke-width="0.16">2</text>
<text x="401.3" y="421.8" font-size="7.2" font-weight="normal" text-anchor="middle" fill="#000"  stroke="#000" stroke-width="0.16">3</text>
<text x="426.2" y="421.8" font-size="7.2" font-weight="normal" text-anchor="middle" fill="#000"  stroke="#000" stroke-width="0.16">4</text>
<text x="450.8" y="421.8" font-size="7.2" font-weight="normal" text-anchor="middle" fill="#000"  stroke="#000" stroke-width="0.16">5</text>
<line x1="347.2" y1="424.9" x2="452.9" y2="424.9" stroke="#c4c4c4" stroke-width="1.8"/>
<text x="400.6" y="432.3" font-size="8" font-weight="normal" text-anchor="middle" fill="#000"  stroke="#000" stroke-width="0.18">months</text>
<line x1="538.6" y1="320.7" x2="538.6" y2="411.5" stroke="#262626" stroke-width="1.2"/>
<line x1="534.6" y1="410.9" x2="538.6" y2="410.9" stroke="#262626" stroke-width="1"/>
<text x="533.3" y="413.2" font-size="6.5" font-weight="bold" text-anchor="end" fill="#1a1a1a"  stroke="#1a1a1a" stroke-width="0.07">0</text>
<line x1="536" y1="406.8" x2="538.6" y2="406.8" stroke="#262626" stroke-width="1"/>
<line x1="536" y1="402.7" x2="538.6" y2="402.7" stroke="#262626" stroke-width="1"/>
<line x1="536" y1="398.6" x2="538.6" y2="398.6" stroke="#262626" stroke-width="1"/>
<line x1="536" y1="394.5" x2="538.6" y2="394.5" stroke="#262626" stroke-width="1"/>
<line x1="536" y1="390.4" x2="538.6" y2="390.4" stroke="#262626" stroke-width="1"/>
<line x1="536" y1="386.3" x2="538.6" y2="386.3" stroke="#262626" stroke-width="1"/>
<line x1="536" y1="382.2" x2="538.6" y2="382.2" stroke="#262626" stroke-width="1"/>
<line x1="536" y1="378.1" x2="538.6" y2="378.1" stroke="#262626" stroke-width="1"/>
<line x1="536" y1="374" x2="538.6" y2="374" stroke="#262626" stroke-width="1"/>
<line x1="534.6" y1="369.9" x2="538.6" y2="369.9" stroke="#262626" stroke-width="1"/>
<text x="533.3" y="372.2" font-size="6.5" font-weight="bold" text-anchor="end" fill="#1a1a1a"  stroke="#1a1a1a" stroke-width="0.07">50</text>
<line x1="536" y1="365.8" x2="538.6" y2="365.8" stroke="#262626" stroke-width="1"/>
<line x1="536" y1="361.7" x2="538.6" y2="361.7" stroke="#262626" stroke-width="1"/>
<line x1="536" y1="357.6" x2="538.6" y2="357.6" stroke="#262626" stroke-width="1"/>
<line x1="536" y1="353.5" x2="538.6" y2="353.5" stroke="#262626" stroke-width="1"/>
<line x1="536" y1="349.4" x2="538.6" y2="349.4" stroke="#262626" stroke-width="1"/>
<line x1="536" y1="345.3" x2="538.6" y2="345.3" stroke="#262626" stroke-width="1"/>
<line x1="536" y1="341.2" x2="538.6" y2="341.2" stroke="#262626" stroke-width="1"/>
<line x1="536" y1="337.1" x2="538.6" y2="337.1" stroke="#262626" stroke-width="1"/>
<line x1="536" y1="333" x2="538.6" y2="333" stroke="#262626" stroke-width="1"/>
<line x1="534.6" y1="328.9" x2="538.6" y2="328.9" stroke="#262626" stroke-width="1"/>
<text x="533.3" y="331.2" font-size="6.5" font-weight="bold" text-anchor="end" fill="#1a1a1a"  stroke="#1a1a1a" stroke-width="0.07">100</text>
<line x1="536" y1="324.8" x2="538.6" y2="324.8" stroke="#262626" stroke-width="1"/>
<line x1="536" y1="320.7" x2="538.6" y2="320.7" stroke="#262626" stroke-width="1"/>
<line x1="538" y1="410.9" x2="674" y2="410.9" stroke="#262626" stroke-width="1.3"/>
<line x1="551" y1="410.9" x2="551" y2="414.4" stroke="#262626" stroke-width="1"/>
<line x1="569.5" y1="410.9" x2="569.5" y2="414.4" stroke="#262626" stroke-width="1"/>
<line x1="587.9" y1="410.9" x2="587.9" y2="414.4" stroke="#262626" stroke-width="1"/>
<line x1="606.4" y1="410.9" x2="606.4" y2="414.4" stroke="#262626" stroke-width="1"/>
<line x1="624.9" y1="410.9" x2="624.9" y2="414.4" stroke="#262626" stroke-width="1"/>
<line x1="643.4" y1="410.9" x2="643.4" y2="414.4" stroke="#262626" stroke-width="1"/>
<line x1="661.9" y1="410.9" x2="661.9" y2="414.4" stroke="#262626" stroke-width="1"/>
<line x1="539.6" y1="328.9" x2="672.2" y2="328.9" stroke="#222" stroke-width="0.9" stroke-dasharray="1 1.75"/>
<path d="M551 391.06V395.16M549.3 391.06H552.7M549.3 395.16H552.7" stroke="#3a3aff" stroke-width="0.8" fill="none"/>
<path d="M569.5 391.96V393.6M567.8 391.96H571.2M567.8 393.6H571.2" stroke="#3a3aff" stroke-width="0.8" fill="none"/>
<path d="M587.9 392.94V394.58M586.2 392.94H589.6M586.2 394.58H589.6" stroke="#3a3aff" stroke-width="0.8" fill="none"/>
<path d="M606.4 392.7V394.34M604.7 392.7H608.1M604.7 394.34H608.1" stroke="#3a3aff" stroke-width="0.8" fill="none"/>
<path d="M624.9 392.45V394.09M623.2 392.45H626.6M623.2 394.09H626.6" stroke="#3a3aff" stroke-width="0.8" fill="none"/>
<path d="M643.4 394.25V395.89M641.7 394.25H645.1M641.7 395.89H645.1" stroke="#3a3aff" stroke-width="0.8" fill="none"/>
<path d="M661.9 393.27V394.91M660.2 393.27H663.6M660.2 394.91H663.6" stroke="#3a3aff" stroke-width="0.8" fill="none"/>
<polyline points="551,393.11 569.5,392.78 587.9,393.76 606.4,393.52 624.9,393.27 643.4,395.07 661.9,394.09" fill="none" stroke="#0000ff" stroke-width="1.35" stroke-linejoin="round"/>
<circle cx="551" cy="393.11" r="2.31" fill="#0000ff"/>
<circle cx="569.5" cy="392.78" r="2.31" fill="#0000ff"/>
<circle cx="587.9" cy="393.76" r="2.31" fill="#0000ff"/>
<circle cx="606.4" cy="393.52" r="2.31" fill="#0000ff"/>
<circle cx="624.9" cy="393.27" r="2.31" fill="#0000ff"/>
<circle cx="643.4" cy="395.07" r="2.31" fill="#0000ff"/>
<circle cx="661.9" cy="394.09" r="2.31" fill="#0000ff"/>
<path d="M551 328.98V332.26M549.3 328.98H552.7M549.3 332.26H552.7" stroke="#30cc30" stroke-width="0.8" fill="none"/>
<path d="M569.5 343.33V345.79M567.8 343.33H571.2M567.8 345.79H571.2" stroke="#30cc30" stroke-width="0.8" fill="none"/>
<path d="M587.9 347.1V349.56M586.2 347.1H589.6M586.2 349.56H589.6" stroke="#30cc30" stroke-width="0.8" fill="none"/>
<path d="M606.4 351.61V354.07M604.7 351.61H608.1M604.7 354.07H608.1" stroke="#30cc30" stroke-width="0.8" fill="none"/>
<path d="M624.9 354.73V357.19M623.2 354.73H626.6M623.2 357.19H626.6" stroke="#30cc30" stroke-width="0.8" fill="none"/>
<path d="M643.4 357.68V360.14M641.7 357.68H645.1M641.7 360.14H645.1" stroke="#30cc30" stroke-width="0.8" fill="none"/>
<path d="M661.9 358.58V361.04M660.2 358.58H663.6M660.2 361.04H663.6" stroke="#30cc30" stroke-width="0.8" fill="none"/>
<polyline points="551,330.62 569.5,344.56 587.9,348.33 606.4,352.84 624.9,355.96 643.4,358.91 661.9,359.81" fill="none" stroke="#00c400" stroke-width="1.35" stroke-linejoin="round"/>
<rect x="548.8" y="328.42" width="4.4" height="4.4" fill="#00c400"/>
<rect x="567.3" y="342.36" width="4.4" height="4.4" fill="#00c400"/>
<rect x="585.7" y="346.13" width="4.4" height="4.4" fill="#00c400"/>
<rect x="604.2" y="350.64" width="4.4" height="4.4" fill="#00c400"/>
<rect x="622.7" y="353.76" width="4.4" height="4.4" fill="#00c400"/>
<rect x="641.2" y="356.71" width="4.4" height="4.4" fill="#00c400"/>
<rect x="659.7" y="357.61" width="4.4" height="4.4" fill="#00c400"/>
<path d="M551 328.49V331.77M549.3 328.49H552.7M549.3 331.77H552.7" stroke="#b040ee" stroke-width="0.8" fill="none"/>
<path d="M569.5 335.46V344.48M567.8 335.46H571.2M567.8 344.48H571.2" stroke="#b040ee" stroke-width="0.8" fill="none"/>
<path d="M587.9 339.23V347.43M586.2 339.23H589.6M586.2 347.43H589.6" stroke="#b040ee" stroke-width="0.8" fill="none"/>
<path d="M606.4 341.69V349.89M604.7 341.69H608.1M604.7 349.89H608.1" stroke="#b040ee" stroke-width="0.8" fill="none"/>
<path d="M624.9 343.99V352.19M623.2 343.99H626.6M623.2 352.19H626.6" stroke="#b040ee" stroke-width="0.8" fill="none"/>
<path d="M643.4 348.17V355.55M641.7 348.17H645.1M641.7 355.55H645.1" stroke="#b040ee" stroke-width="0.8" fill="none"/>
<path d="M661.9 346.12V353.5M660.2 346.12H663.6M660.2 353.5H663.6" stroke="#b040ee" stroke-width="0.8" fill="none"/>
<polyline points="551,330.13 569.5,339.97 587.9,343.33 606.4,345.79 624.9,348.09 643.4,351.86 661.9,349.81" fill="none" stroke="#a010e8" stroke-width="1.35" stroke-linejoin="round"/>
<polygon points="551,327.65 548.75,332.05 553.25,332.05" fill="#a010e8"/>
<polygon points="569.5,337.49 567.25,341.89 571.75,341.89" fill="#a010e8"/>
<polygon points="587.9,340.85 585.64,345.25 590.15,345.25" fill="#a010e8"/>
<polygon points="606.4,343.31 604.14,347.71 608.65,347.71" fill="#a010e8"/>
<polygon points="624.9,345.61 622.64,350 627.15,350" fill="#a010e8"/>
<polygon points="643.4,349.38 641.14,353.78 645.65,353.78" fill="#a010e8"/>
<polygon points="661.9,347.33 659.64,351.73 664.15,351.73" fill="#a010e8"/>
<path d="M551 326.44V331.36M549.3 326.44H552.7M549.3 331.36H552.7" stroke="#ff3030" stroke-width="0.8" fill="none"/>
<path d="M569.5 326.03V331.77M567.8 326.03H571.2M567.8 331.77H571.2" stroke="#ff3030" stroke-width="0.8" fill="none"/>
<path d="M587.9 326.03V331.77M586.2 326.03H589.6M586.2 331.77H589.6" stroke="#ff3030" stroke-width="0.8" fill="none"/>
<path d="M606.4 325.21V332.59M604.7 325.21H608.1M604.7 332.59H608.1" stroke="#ff3030" stroke-width="0.8" fill="none"/>
<path d="M624.9 325.62V332.18M623.2 325.62H626.6M623.2 332.18H626.6" stroke="#ff3030" stroke-width="0.8" fill="none"/>
<path d="M643.4 326.44V331.36M641.7 326.44H645.1M641.7 331.36H645.1" stroke="#ff3030" stroke-width="0.8" fill="none"/>
<path d="M661.9 326.44V331.36M660.2 326.44H663.6M660.2 331.36H663.6" stroke="#ff3030" stroke-width="0.8" fill="none"/>
<polyline points="551,328.9 569.5,328.9 587.9,328.9 606.4,328.9 624.9,328.9 643.4,328.9 661.9,328.9" fill="none" stroke="#ff0000" stroke-width="1.35" stroke-linejoin="round"/>
<polygon points="551,331.56 548.58,326.84 553.42,326.84" fill="#ff0000"/>
<polygon points="569.5,331.56 567.08,326.84 571.92,326.84" fill="#ff0000"/>
<polygon points="587.9,331.56 585.48,326.84 590.32,326.84" fill="#ff0000"/>
<polygon points="606.4,331.56 603.98,326.84 608.82,326.84" fill="#ff0000"/>
<polygon points="624.9,331.56 622.48,326.84 627.32,326.84" fill="#ff0000"/>
<polygon points="643.4,331.56 640.98,326.84 645.82,326.84" fill="#ff0000"/>
<polygon points="661.9,331.56 659.48,326.84 664.32,326.84" fill="#ff0000"/>
<line x1="539.6" y1="328.9" x2="672.2" y2="328.9" stroke="#222" opacity="0.42" stroke-width="0.9" stroke-dasharray="1 1.75"/>
<rect x="624.15" y="341.5" width="1.5" height="1.4" fill="#4d4d4d"/>
<rect x="641.57" y="345.1" width="1.5" height="1.4" fill="#4d4d4d"/>
<rect x="643.72" y="345.1" width="1.5" height="1.4" fill="#4d4d4d"/>
<rect x="660.07" y="343.9" width="1.5" height="1.4" fill="#4d4d4d"/>
<rect x="662.22" y="343.9" width="1.5" height="1.4" fill="#4d4d4d"/>
<rect x="567.67" y="349" width="1.5" height="1.4" fill="#4d4d4d"/>
<rect x="569.82" y="349" width="1.5" height="1.4" fill="#4d4d4d"/>
<rect x="586.07" y="352.2" width="1.5" height="1.4" fill="#4d4d4d"/>
<rect x="588.22" y="352.2" width="1.5" height="1.4" fill="#4d4d4d"/>
<rect x="605.65" y="356.7" width="1.5" height="1.4" fill="#4d4d4d"/>
<rect x="623.07" y="361.1" width="1.5" height="1.4" fill="#4d4d4d"/>
<rect x="625.22" y="361.1" width="1.5" height="1.4" fill="#4d4d4d"/>
<rect x="639.42" y="362.3" width="1.5" height="1.4" fill="#4d4d4d"/>
<rect x="641.57" y="362.3" width="1.5" height="1.4" fill="#4d4d4d"/>
<rect x="643.72" y="362.3" width="1.5" height="1.4" fill="#4d4d4d"/>
<rect x="645.88" y="362.3" width="1.5" height="1.4" fill="#4d4d4d"/>
<rect x="659" y="363.4" width="1.5" height="1.4" fill="#4d4d4d"/>
<rect x="661.15" y="363.4" width="1.5" height="1.4" fill="#4d4d4d"/>
<rect x="663.3" y="363.4" width="1.5" height="1.4" fill="#4d4d4d"/>
<text transform="translate(517.5,370) rotate(-90)" x="0" y="0" font-size="7.6" font-weight="bold" text-anchor="middle" fill="#1a1a1a" stroke="#1a1a1a" stroke-width="0.18">% of vehicle control</text>
<text x="551" y="420.6" font-size="6" font-weight="normal" text-anchor="middle" fill="#000"  stroke="#000" stroke-width="0.13">2</text>
<text x="569.5" y="420.6" font-size="6" font-weight="normal" text-anchor="middle" fill="#000"  stroke="#000" stroke-width="0.13">1</text>
<text x="587.9" y="420.6" font-size="6" font-weight="normal" text-anchor="middle" fill="#000"  stroke="#000" stroke-width="0.13">2</text>
<text x="606.4" y="420.6" font-size="6" font-weight="normal" text-anchor="middle" fill="#000"  stroke="#000" stroke-width="0.13">3</text>
<text x="624.9" y="420.6" font-size="6" font-weight="normal" text-anchor="middle" fill="#000"  stroke="#000" stroke-width="0.13">4</text>
<text x="643.4" y="420.6" font-size="6" font-weight="normal" text-anchor="middle" fill="#000"  stroke="#000" stroke-width="0.13">5</text>
<text x="661.9" y="420.6" font-size="6" font-weight="normal" text-anchor="middle" fill="#000"  stroke="#000" stroke-width="0.13">8</text>
<text x="551" y="425.3" font-size="5.1" font-weight="bold" text-anchor="middle" fill="#000"  stroke="#000" stroke-width="0.05">weeks</text>
<line x1="563.3" y1="422.5" x2="670.5" y2="422.5" stroke="#444" stroke-width="0.8"/>
<text x="615.5" y="429.2" font-size="7.8" font-weight="normal" text-anchor="middle" fill="#000"  stroke="#000" stroke-width="0.17">months</text>
<line x1="136" y1="479.4" x2="136" y2="568.4" stroke="#262626" stroke-width="1.2"/>
<line x1="132" y1="567.8" x2="136" y2="567.8" stroke="#262626" stroke-width="1"/>
<text x="130.7" y="570.1" font-size="6.5" font-weight="bold" text-anchor="end" fill="#1a1a1a"  stroke="#1a1a1a" stroke-width="0.07">0</text>
<line x1="133.4" y1="564.4" x2="136" y2="564.4" stroke="#262626" stroke-width="1"/>
<line x1="133.4" y1="561" x2="136" y2="561" stroke="#262626" stroke-width="1"/>
<line x1="133.4" y1="557.6" x2="136" y2="557.6" stroke="#262626" stroke-width="1"/>
<line x1="133.4" y1="554.2" x2="136" y2="554.2" stroke="#262626" stroke-width="1"/>
<line x1="133.4" y1="550.8" x2="136" y2="550.8" stroke="#262626" stroke-width="1"/>
<line x1="133.4" y1="547.4" x2="136" y2="547.4" stroke="#262626" stroke-width="1"/>
<line x1="133.4" y1="544" x2="136" y2="544" stroke="#262626" stroke-width="1"/>
<line x1="133.4" y1="540.6" x2="136" y2="540.6" stroke="#262626" stroke-width="1"/>
<line x1="133.4" y1="537.2" x2="136" y2="537.2" stroke="#262626" stroke-width="1"/>
<line x1="132" y1="533.8" x2="136" y2="533.8" stroke="#262626" stroke-width="1"/>
<text x="130.7" y="536.1" font-size="6.5" font-weight="bold" text-anchor="end" fill="#1a1a1a"  stroke="#1a1a1a" stroke-width="0.07">50</text>
<line x1="133.4" y1="530.4" x2="136" y2="530.4" stroke="#262626" stroke-width="1"/>
<line x1="133.4" y1="527" x2="136" y2="527" stroke="#262626" stroke-width="1"/>
<line x1="133.4" y1="523.6" x2="136" y2="523.6" stroke="#262626" stroke-width="1"/>
<line x1="133.4" y1="520.2" x2="136" y2="520.2" stroke="#262626" stroke-width="1"/>
<line x1="133.4" y1="516.8" x2="136" y2="516.8" stroke="#262626" stroke-width="1"/>
<line x1="133.4" y1="513.4" x2="136" y2="513.4" stroke="#262626" stroke-width="1"/>
<line x1="133.4" y1="510" x2="136" y2="510" stroke="#262626" stroke-width="1"/>
<line x1="133.4" y1="506.6" x2="136" y2="506.6" stroke="#262626" stroke-width="1"/>
<line x1="133.4" y1="503.2" x2="136" y2="503.2" stroke="#262626" stroke-width="1"/>
<line x1="132" y1="499.8" x2="136" y2="499.8" stroke="#262626" stroke-width="1"/>
<text x="130.7" y="502.1" font-size="6.5" font-weight="bold" text-anchor="end" fill="#1a1a1a"  stroke="#1a1a1a" stroke-width="0.07">100</text>
<line x1="133.4" y1="496.4" x2="136" y2="496.4" stroke="#262626" stroke-width="1"/>
<line x1="133.4" y1="493" x2="136" y2="493" stroke="#262626" stroke-width="1"/>
<line x1="133.4" y1="489.6" x2="136" y2="489.6" stroke="#262626" stroke-width="1"/>
<line x1="133.4" y1="486.2" x2="136" y2="486.2" stroke="#262626" stroke-width="1"/>
<line x1="133.4" y1="482.8" x2="136" y2="482.8" stroke="#262626" stroke-width="1"/>
<line x1="133.4" y1="479.4" x2="136" y2="479.4" stroke="#262626" stroke-width="1"/>
<line x1="135.4" y1="567.8" x2="263" y2="567.8" stroke="#262626" stroke-width="1.3"/>
<line x1="161.4" y1="567.8" x2="161.4" y2="571.3" stroke="#262626" stroke-width="1"/>
<line x1="199.5" y1="567.8" x2="199.5" y2="571.3" stroke="#262626" stroke-width="1"/>
<line x1="237.3" y1="567.8" x2="237.3" y2="571.3" stroke="#262626" stroke-width="1"/>
<line x1="137" y1="499.8" x2="261" y2="499.8" stroke="#222" stroke-width="0.9" stroke-dasharray="1 1.75"/>
<path d="M161.4 494.36V505.24M159.7 494.36H163.1M159.7 505.24H163.1" stroke="#ff3030" stroke-width="0.8" fill="none"/>
<path d="M199.5 498.44V501.16M197.8 498.44H201.2M197.8 501.16H201.2" stroke="#ff3030" stroke-width="0.8" fill="none"/>
<path d="M237.3 499.12V500.48M235.6 499.12H239M235.6 500.48H239" stroke="#ff3030" stroke-width="0.8" fill="none"/>
<polyline points="161.4,499.8 199.5,499.8 237.3,499.8" fill="none" stroke="#ff0000" stroke-width="1.0" stroke-linejoin="round"/>
<polygon points="161.4,501.74 159.64,498.3 163.16,498.3" fill="#ff0000"/>
<polygon points="199.5,501.74 197.74,498.3 201.26,498.3" fill="#ff0000"/>
<polygon points="237.3,501.74 235.54,498.3 239.06,498.3" fill="#ff0000"/>
<line x1="137" y1="499.8" x2="261" y2="499.8" stroke="#222" opacity="0.42" stroke-width="0.9" stroke-dasharray="1 1.75"/>
<path d="M161.4 485.32V496.88M159.7 485.32H163.1M159.7 496.88H163.1" stroke="#30cc30" stroke-width="0.8" fill="none"/>
<path d="M199.5 534.07V536.11M197.8 534.07H201.2M197.8 536.11H201.2" stroke="#30cc30" stroke-width="0.8" fill="none"/>
<path d="M237.3 541.35V548.83M235.6 541.35H239M235.6 548.83H239" stroke="#30cc30" stroke-width="0.8" fill="none"/>
<polyline points="161.4,491.1 199.5,535.09 237.3,545.09" fill="none" stroke="#00c400" stroke-width="1.2" stroke-linejoin="round"/>
<rect x="159.4" y="489.1" width="4" height="4" fill="#00c400"/>
<rect x="197.5" y="533.09" width="4" height="4" fill="#00c400"/>
<rect x="235.3" y="543.09" width="4" height="4" fill="#00c400"/>
<path d="M161.4 548.96V551.68M159.7 548.96H163.1M159.7 551.68H163.1" stroke="#3a3aff" stroke-width="0.8" fill="none"/>
<path d="M199.5 548.83V550.19M197.8 548.83H201.2M197.8 550.19H201.2" stroke="#3a3aff" stroke-width="0.8" fill="none"/>
<path d="M237.3 546.79V549.51M235.6 546.79H239M235.6 549.51H239" stroke="#3a3aff" stroke-width="0.8" fill="none"/>
<polyline points="161.4,550.32 199.5,549.51 237.3,548.15" fill="none" stroke="#0000ff" stroke-width="1.2" stroke-linejoin="round"/>
<circle cx="161.4" cy="550.32" r="2.1" fill="#0000ff"/>
<circle cx="199.5" cy="549.51" r="2.1" fill="#0000ff"/>
<circle cx="237.3" cy="548.15" r="2.1" fill="#0000ff"/>
<rect x="199.93" y="530.9" width="1.5" height="1.4" fill="#4d4d4d"/>
<rect x="202.08" y="530.9" width="1.5" height="1.4" fill="#4d4d4d"/>
<rect x="204.23" y="530.9" width="1.5" height="1.4" fill="#4d4d4d"/>
<rect x="206.38" y="530.9" width="1.5" height="1.4" fill="#4d4d4d"/>
<rect x="235.38" y="537.6" width="1.5" height="1.4" fill="#4d4d4d"/>
<rect x="237.53" y="537.6" width="1.5" height="1.4" fill="#4d4d4d"/>
<text transform="translate(115.4,525) rotate(-90)" x="0" y="0" font-size="7.25" font-weight="bold" text-anchor="middle" fill="#1a1a1a" stroke="#1a1a1a" stroke-width="0.18">% of vehicle control</text>
<text x="164.3" y="580.3" font-size="8.1" font-weight="normal" text-anchor="middle" fill="#000"  stroke="#000" stroke-width="0.18">Pre-</text>
<text x="164.6" y="588.5" font-size="8.1" font-weight="normal" text-anchor="middle" fill="#000"  stroke="#000" stroke-width="0.18">Surgery</text>
<text x="203.1" y="580.3" font-size="8.1" font-weight="normal" text-anchor="middle" fill="#000"  stroke="#000" stroke-width="0.18">2 Weeks</text>
<text x="243.8" y="580.3" font-size="8.1" font-weight="normal" text-anchor="middle" fill="#000"  stroke="#000" stroke-width="0.18">1 Month</text>
<line x1="334.8" y1="481.6" x2="334.8" y2="572.4" stroke="#262626" stroke-width="1.2"/>
<line x1="330.8" y1="571.8" x2="334.8" y2="571.8" stroke="#262626" stroke-width="1"/>
<text x="329.5" y="574.1" font-size="6.5" font-weight="bold" text-anchor="end" fill="#1a1a1a"  stroke="#1a1a1a" stroke-width="0.07">0</text>
<line x1="332.2" y1="567.7" x2="334.8" y2="567.7" stroke="#262626" stroke-width="1"/>
<line x1="332.2" y1="563.6" x2="334.8" y2="563.6" stroke="#262626" stroke-width="1"/>
<line x1="332.2" y1="559.5" x2="334.8" y2="559.5" stroke="#262626" stroke-width="1"/>
<line x1="332.2" y1="555.4" x2="334.8" y2="555.4" stroke="#262626" stroke-width="1"/>
<line x1="332.2" y1="551.3" x2="334.8" y2="551.3" stroke="#262626" stroke-width="1"/>
<line x1="332.2" y1="547.2" x2="334.8" y2="547.2" stroke="#262626" stroke-width="1"/>
<line x1="332.2" y1="543.1" x2="334.8" y2="543.1" stroke="#262626" stroke-width="1"/>
<line x1="332.2" y1="539" x2="334.8" y2="539" stroke="#262626" stroke-width="1"/>
<line x1="332.2" y1="534.9" x2="334.8" y2="534.9" stroke="#262626" stroke-width="1"/>
<line x1="330.8" y1="530.8" x2="334.8" y2="530.8" stroke="#262626" stroke-width="1"/>
<text x="329.5" y="533.1" font-size="6.5" font-weight="bold" text-anchor="end" fill="#1a1a1a"  stroke="#1a1a1a" stroke-width="0.07">50</text>
<line x1="332.2" y1="526.7" x2="334.8" y2="526.7" stroke="#262626" stroke-width="1"/>
<line x1="332.2" y1="522.6" x2="334.8" y2="522.6" stroke="#262626" stroke-width="1"/>
<line x1="332.2" y1="518.5" x2="334.8" y2="518.5" stroke="#262626" stroke-width="1"/>
<line x1="332.2" y1="514.4" x2="334.8" y2="514.4" stroke="#262626" stroke-width="1"/>
<line x1="332.2" y1="510.3" x2="334.8" y2="510.3" stroke="#262626" stroke-width="1"/>
<line x1="332.2" y1="506.2" x2="334.8" y2="506.2" stroke="#262626" stroke-width="1"/>
<line x1="332.2" y1="502.1" x2="334.8" y2="502.1" stroke="#262626" stroke-width="1"/>
<line x1="332.2" y1="498" x2="334.8" y2="498" stroke="#262626" stroke-width="1"/>
<line x1="332.2" y1="493.9" x2="334.8" y2="493.9" stroke="#262626" stroke-width="1"/>
<line x1="330.8" y1="489.8" x2="334.8" y2="489.8" stroke="#262626" stroke-width="1"/>
<text x="329.5" y="492.1" font-size="6.5" font-weight="bold" text-anchor="end" fill="#1a1a1a"  stroke="#1a1a1a" stroke-width="0.07">100</text>
<line x1="332.2" y1="485.7" x2="334.8" y2="485.7" stroke="#262626" stroke-width="1"/>
<line x1="332.2" y1="481.6" x2="334.8" y2="481.6" stroke="#262626" stroke-width="1"/>
<line x1="334.2" y1="571.8" x2="470.8" y2="571.8" stroke="#262626" stroke-width="1.3"/>
<line x1="347.5" y1="571.8" x2="347.5" y2="575.3" stroke="#262626" stroke-width="1"/>
<line x1="366.1" y1="571.8" x2="366.1" y2="575.3" stroke="#262626" stroke-width="1"/>
<line x1="384.7" y1="571.8" x2="384.7" y2="575.3" stroke="#262626" stroke-width="1"/>
<line x1="403" y1="571.8" x2="403" y2="575.3" stroke="#262626" stroke-width="1"/>
<line x1="421.4" y1="571.8" x2="421.4" y2="575.3" stroke="#262626" stroke-width="1"/>
<line x1="439.7" y1="571.8" x2="439.7" y2="575.3" stroke="#262626" stroke-width="1"/>
<line x1="458.3" y1="571.8" x2="458.3" y2="575.3" stroke="#262626" stroke-width="1"/>
<line x1="335.8" y1="489.8" x2="469" y2="489.8" stroke="#222" stroke-width="0.9" stroke-dasharray="1 1.75"/>
<path d="M347.5 484.06V495.54M345.8 484.06H349.2M345.8 495.54H349.2" stroke="#ff3030" stroke-width="0.8" fill="none"/>
<path d="M366.1 484.31V495.29M364.4 484.31H367.8M364.4 495.29H367.8" stroke="#ff3030" stroke-width="0.8" fill="none"/>
<path d="M384.7 484.06V495.54M383 484.06H386.4M383 495.54H386.4" stroke="#ff3030" stroke-width="0.8" fill="none"/>
<path d="M403 482.42V497.18M401.3 482.42H404.7M401.3 497.18H404.7" stroke="#ff3030" stroke-width="0.8" fill="none"/>
<path d="M421.4 484.06V495.54M419.7 484.06H423.1M419.7 495.54H423.1" stroke="#ff3030" stroke-width="0.8" fill="none"/>
<path d="M439.7 485.7V493.9M438 485.7H441.4M438 493.9H441.4" stroke="#ff3030" stroke-width="0.8" fill="none"/>
<path d="M458.3 482.42V497.18M456.6 482.42H460M456.6 497.18H460" stroke="#ff3030" stroke-width="0.8" fill="none"/>
<polyline points="347.5,489.8 366.1,489.8 384.7,489.8 403,489.8 421.4,489.8 439.7,489.8 458.3,489.8" fill="none" stroke="#ff0000" stroke-width="1.2" stroke-linejoin="round"/>
<polygon points="347.5,491.74 345.74,488.3 349.26,488.3" fill="#ff0000"/>
<polygon points="366.1,491.74 364.34,488.3 367.86,488.3" fill="#ff0000"/>
<polygon points="384.7,491.74 382.94,488.3 386.46,488.3" fill="#ff0000"/>
<polygon points="403,491.74 401.24,488.3 404.76,488.3" fill="#ff0000"/>
<polygon points="421.4,491.74 419.64,488.3 423.16,488.3" fill="#ff0000"/>
<polygon points="439.7,491.74 437.94,488.3 441.46,488.3" fill="#ff0000"/>
<polygon points="458.3,491.74 456.54,488.3 460.06,488.3" fill="#ff0000"/>
<line x1="335.8" y1="489.8" x2="469" y2="489.8" stroke="#222" opacity="0.42" stroke-width="0.9" stroke-dasharray="1 1.75"/>
<path d="M347.5 504.89V516.7M345.8 504.89H349.2M345.8 516.7H349.2" stroke="#30cc30" stroke-width="0.8" fill="none"/>
<path d="M366.1 559.91V561.55M364.4 559.91H367.8M364.4 561.55H367.8" stroke="#30cc30" stroke-width="0.8" fill="none"/>
<path d="M384.7 563.19V564.83M383 563.19H386.4M383 564.83H386.4" stroke="#30cc30" stroke-width="0.8" fill="none"/>
<path d="M403 562.21V563.85M401.3 562.21H404.7M401.3 563.85H404.7" stroke="#30cc30" stroke-width="0.8" fill="none"/>
<path d="M421.4 562.29V563.93M419.7 562.29H423.1M419.7 563.93H423.1" stroke="#30cc30" stroke-width="0.8" fill="none"/>
<path d="M439.7 564.42V566.06M438 564.42H441.4M438 566.06H441.4" stroke="#30cc30" stroke-width="0.8" fill="none"/>
<path d="M458.3 563.6V565.24M456.6 563.6H460M456.6 565.24H460" stroke="#30cc30" stroke-width="0.8" fill="none"/>
<polyline points="347.5,510.79 366.1,560.73 384.7,564.01 403,563.03 421.4,563.11 439.7,565.24 458.3,564.42" fill="none" stroke="#00c400" stroke-width="1.2" stroke-linejoin="round"/>
<rect x="345.5" y="508.79" width="4" height="4" fill="#00c400"/>
<rect x="364.1" y="558.73" width="4" height="4" fill="#00c400"/>
<rect x="382.7" y="562.01" width="4" height="4" fill="#00c400"/>
<rect x="401" y="561.03" width="4" height="4" fill="#00c400"/>
<rect x="419.4" y="561.11" width="4" height="4" fill="#00c400"/>
<rect x="437.7" y="563.24" width="4" height="4" fill="#00c400"/>
<rect x="456.3" y="562.42" width="4" height="4" fill="#00c400"/>
<polyline points="347.5,568.11 366.1,567.7 384.7,567.7 403,567.7 421.4,569.09 439.7,568.85 458.3,567.78" fill="none" stroke="#0000ff" stroke-width="1.2" stroke-linejoin="round"/>
<circle cx="347.5" cy="568.11" r="2.1" fill="#0000ff"/>
<circle cx="366.1" cy="567.7" r="2.1" fill="#0000ff"/>
<circle cx="384.7" cy="567.7" r="2.1" fill="#0000ff"/>
<circle cx="403" cy="567.7" r="2.1" fill="#0000ff"/>
<circle cx="421.4" cy="569.09" r="2.1" fill="#0000ff"/>
<circle cx="439.7" cy="568.85" r="2.1" fill="#0000ff"/>
<circle cx="458.3" cy="567.78" r="2.1" fill="#0000ff"/>
<rect x="368.42" y="556.2" width="1.5" height="1.4" fill="#4d4d4d"/>
<rect x="370.57" y="556.2" width="1.5" height="1.4" fill="#4d4d4d"/>
<rect x="372.72" y="556.2" width="1.5" height="1.4" fill="#4d4d4d"/>
<rect x="374.87" y="556.2" width="1.5" height="1.4" fill="#4d4d4d"/>
<rect x="381.62" y="558.6" width="1.5" height="1.4" fill="#4d4d4d"/>
<rect x="383.77" y="558.6" width="1.5" height="1.4" fill="#4d4d4d"/>
<rect x="385.93" y="558.6" width="1.5" height="1.4" fill="#4d4d4d"/>
<rect x="388.07" y="558.6" width="1.5" height="1.4" fill="#4d4d4d"/>
<rect x="399.92" y="557.3" width="1.5" height="1.4" fill="#4d4d4d"/>
<rect x="402.07" y="557.3" width="1.5" height="1.4" fill="#4d4d4d"/>
<rect x="404.22" y="557.3" width="1.5" height="1.4" fill="#4d4d4d"/>
<rect x="406.37" y="557.3" width="1.5" height="1.4" fill="#4d4d4d"/>
<rect x="418.32" y="557.3" width="1.5" height="1.4" fill="#4d4d4d"/>
<rect x="420.47" y="557.3" width="1.5" height="1.4" fill="#4d4d4d"/>
<rect x="422.62" y="557.3" width="1.5" height="1.4" fill="#4d4d4d"/>
<rect x="424.77" y="557.3" width="1.5" height="1.4" fill="#4d4d4d"/>
<rect x="436.62" y="559.8" width="1.5" height="1.4" fill="#4d4d4d"/>
<rect x="438.77" y="559.8" width="1.5" height="1.4" fill="#4d4d4d"/>
<rect x="440.93" y="559.8" width="1.5" height="1.4" fill="#4d4d4d"/>
<rect x="443.07" y="559.8" width="1.5" height="1.4" fill="#4d4d4d"/>
<rect x="455.22" y="558.8" width="1.5" height="1.4" fill="#4d4d4d"/>
<rect x="457.37" y="558.8" width="1.5" height="1.4" fill="#4d4d4d"/>
<rect x="459.52" y="558.8" width="1.5" height="1.4" fill="#4d4d4d"/>
<rect x="461.67" y="558.8" width="1.5" height="1.4" fill="#4d4d4d"/>
<text transform="translate(317,528.7) rotate(-90)" x="0" y="0" font-size="7.3" font-weight="bold" text-anchor="middle" fill="#1a1a1a" stroke="#1a1a1a" stroke-width="0.18">% of vehicle control</text>
<text x="345.7" y="583.1" font-size="6.4" font-weight="normal" text-anchor="middle" fill="#000"  stroke="#000" stroke-width="0.14">Pre-</text>
<text x="345.6" y="588.9" font-size="6.1" font-weight="normal" text-anchor="middle" fill="#000"  stroke="#000" stroke-width="0.13">surgery</text>
<text x="366.3" y="583.1" font-size="6.4" font-weight="normal" text-anchor="middle" fill="#000"  stroke="#000" stroke-width="0.14">2</text>
<text x="366.6" y="588.9" font-size="6.1" font-weight="normal" text-anchor="middle" fill="#000"  stroke="#000" stroke-width="0.13">weeks</text>
<text x="385" y="583.1" font-size="6.4" font-weight="normal" text-anchor="middle" fill="#000"  stroke="#000" stroke-width="0.14">1</text>
<text x="403.3" y="583.1" font-size="6.4" font-weight="normal" text-anchor="middle" fill="#000"  stroke="#000" stroke-width="0.14">2</text>
<text x="421.7" y="583.1" font-size="6.4" font-weight="normal" text-anchor="middle" fill="#000"  stroke="#000" stroke-width="0.14">3</text>
<text x="440" y="583.1" font-size="6.4" font-weight="normal" text-anchor="middle" fill="#000"  stroke="#000" stroke-width="0.14">4</text>
<text x="458.6" y="583.1" font-size="6.4" font-weight="normal" text-anchor="middle" fill="#000"  stroke="#000" stroke-width="0.14">5</text>
<line x1="379.9" y1="585.5" x2="463.4" y2="585.5" stroke="#444" stroke-width="0.8"/>
<text x="418.9" y="591.2" font-size="6.2" font-weight="normal" text-anchor="middle" fill="#000"  stroke="#000" stroke-width="0.14">months</text>
<line x1="138.1" y1="623.9" x2="138.1" y2="708.1" stroke="#262626" stroke-width="1.2"/>
<line x1="134.1" y1="707.5" x2="138.1" y2="707.5" stroke="#262626" stroke-width="1"/>
<text x="132.8" y="709.8" font-size="6.5" font-weight="bold" text-anchor="end" fill="#1a1a1a"  stroke="#1a1a1a" stroke-width="0.07">0</text>
<line x1="135.5" y1="703.7" x2="138.1" y2="703.7" stroke="#262626" stroke-width="1"/>
<line x1="135.5" y1="699.9" x2="138.1" y2="699.9" stroke="#262626" stroke-width="1"/>
<line x1="135.5" y1="696.1" x2="138.1" y2="696.1" stroke="#262626" stroke-width="1"/>
<line x1="135.5" y1="692.3" x2="138.1" y2="692.3" stroke="#262626" stroke-width="1"/>
<line x1="135.5" y1="688.5" x2="138.1" y2="688.5" stroke="#262626" stroke-width="1"/>
<line x1="135.5" y1="684.7" x2="138.1" y2="684.7" stroke="#262626" stroke-width="1"/>
<line x1="135.5" y1="680.9" x2="138.1" y2="680.9" stroke="#262626" stroke-width="1"/>
<line x1="135.5" y1="677.1" x2="138.1" y2="677.1" stroke="#262626" stroke-width="1"/>
<line x1="135.5" y1="673.3" x2="138.1" y2="673.3" stroke="#262626" stroke-width="1"/>
<line x1="134.1" y1="669.5" x2="138.1" y2="669.5" stroke="#262626" stroke-width="1"/>
<text x="132.8" y="671.8" font-size="6.5" font-weight="bold" text-anchor="end" fill="#1a1a1a"  stroke="#1a1a1a" stroke-width="0.07">50</text>
<line x1="135.5" y1="665.7" x2="138.1" y2="665.7" stroke="#262626" stroke-width="1"/>
<line x1="135.5" y1="661.9" x2="138.1" y2="661.9" stroke="#262626" stroke-width="1"/>
<line x1="135.5" y1="658.1" x2="138.1" y2="658.1" stroke="#262626" stroke-width="1"/>
<line x1="135.5" y1="654.3" x2="138.1" y2="654.3" stroke="#262626" stroke-width="1"/>
<line x1="135.5" y1="650.5" x2="138.1" y2="650.5" stroke="#262626" stroke-width="1"/>
<line x1="135.5" y1="646.7" x2="138.1" y2="646.7" stroke="#262626" stroke-width="1"/>
<line x1="135.5" y1="642.9" x2="138.1" y2="642.9" stroke="#262626" stroke-width="1"/>
<line x1="135.5" y1="639.1" x2="138.1" y2="639.1" stroke="#262626" stroke-width="1"/>
<line x1="135.5" y1="635.3" x2="138.1" y2="635.3" stroke="#262626" stroke-width="1"/>
<line x1="134.1" y1="631.5" x2="138.1" y2="631.5" stroke="#262626" stroke-width="1"/>
<text x="132.8" y="633.8" font-size="6.5" font-weight="bold" text-anchor="end" fill="#1a1a1a"  stroke="#1a1a1a" stroke-width="0.07">100</text>
<line x1="135.5" y1="627.7" x2="138.1" y2="627.7" stroke="#262626" stroke-width="1"/>
<line x1="135.5" y1="623.9" x2="138.1" y2="623.9" stroke="#262626" stroke-width="1"/>
<line x1="137.5" y1="707.5" x2="264.2" y2="707.5" stroke="#262626" stroke-width="1.3"/>
<line x1="174.3" y1="707.5" x2="174.3" y2="711" stroke="#262626" stroke-width="1"/>
<line x1="227.9" y1="707.5" x2="227.9" y2="711" stroke="#262626" stroke-width="1"/>
<line x1="139.1" y1="631.5" x2="262" y2="631.5" stroke="#222" stroke-width="0.9" stroke-dasharray="1 1.75"/>
<path d="M174.3 626.33V636.67M172.6 626.33H176M172.6 636.67H176" stroke="#ff3030" stroke-width="0.8" fill="none"/>
<path d="M227.9 628.16V634.84M226.2 628.16H229.6M226.2 634.84H229.6" stroke="#ff3030" stroke-width="0.8" fill="none"/>
<polyline points="174.3,631.5 227.9,631.5" fill="none" stroke="#ff0000" stroke-width="1.0" stroke-linejoin="round"/>
<polygon points="174.3,633.44 172.54,630 176.06,630" fill="#ff0000"/>
<polygon points="227.9,633.44 226.14,630 229.66,630" fill="#ff0000"/>
<line x1="139.1" y1="631.5" x2="262" y2="631.5" stroke="#222" opacity="0.42" stroke-width="0.9" stroke-dasharray="1 1.75"/>
<path d="M174.3 679.38V681.66M172.6 679.38H176M172.6 681.66H176" stroke="#b040ee" stroke-width="0.8" fill="none"/>
<path d="M227.9 683.18V686.22M226.2 683.18H229.6M226.2 686.22H229.6" stroke="#b040ee" stroke-width="0.8" fill="none"/>
<polyline points="174.3,680.52 227.9,684.7" fill="none" stroke="#a010e8" stroke-width="1.2" stroke-linejoin="round"/>
<polygon points="174.3,678.26 172.25,682.26 176.35,682.26" fill="#a010e8"/>
<polygon points="227.9,682.45 225.85,686.44 229.95,686.44" fill="#a010e8"/>
<path d="M174.3 676.87V679.91M172.6 676.87H176M172.6 679.91H176" stroke="#30cc30" stroke-width="0.8" fill="none"/>
<path d="M227.9 690.86V693.14M226.2 690.86H229.6M226.2 693.14H229.6" stroke="#30cc30" stroke-width="0.8" fill="none"/>
<polyline points="174.3,678.39 227.9,692" fill="none" stroke="#00c400" stroke-width="1.2" stroke-linejoin="round"/>
<rect x="172.3" y="676.39" width="4" height="4" fill="#00c400"/>
<rect x="225.9" y="690" width="4" height="4" fill="#00c400"/>
<path d="M174.3 694.05V699.06M172.6 694.05H176M172.6 699.06H176" stroke="#3a3aff" stroke-width="0.8" fill="none"/>
<path d="M227.9 696.33V698.61M226.2 696.33H229.6M226.2 698.61H229.6" stroke="#3a3aff" stroke-width="0.8" fill="none"/>
<polyline points="174.3,696.56 227.9,697.47" fill="none" stroke="#0000ff" stroke-width="1.2" stroke-linejoin="round"/>
<circle cx="174.3" cy="696.56" r="2.1" fill="#0000ff"/>
<circle cx="227.9" cy="697.47" r="2.1" fill="#0000ff"/>
<rect x="170.33" y="673.3" width="1.5" height="1.4" fill="#4d4d4d"/>
<rect x="172.48" y="673.3" width="1.5" height="1.4" fill="#4d4d4d"/>
<rect x="174.63" y="673.3" width="1.5" height="1.4" fill="#4d4d4d"/>
<rect x="176.78" y="673.3" width="1.5" height="1.4" fill="#4d4d4d"/>
<rect x="170.33" y="685.1" width="1.5" height="1.4" fill="#4d4d4d"/>
<rect x="172.48" y="685.1" width="1.5" height="1.4" fill="#4d4d4d"/>
<rect x="174.63" y="685.1" width="1.5" height="1.4" fill="#4d4d4d"/>
<rect x="176.78" y="685.1" width="1.5" height="1.4" fill="#4d4d4d"/>
<rect x="224.03" y="679.8" width="1.5" height="1.4" fill="#4d4d4d"/>
<rect x="226.18" y="679.8" width="1.5" height="1.4" fill="#4d4d4d"/>
<rect x="228.33" y="679.8" width="1.5" height="1.4" fill="#4d4d4d"/>
<rect x="230.47" y="679.8" width="1.5" height="1.4" fill="#4d4d4d"/>
<rect x="224.03" y="687.8" width="1.5" height="1.4" fill="#4d4d4d"/>
<rect x="226.18" y="687.8" width="1.5" height="1.4" fill="#4d4d4d"/>
<rect x="228.33" y="687.8" width="1.5" height="1.4" fill="#4d4d4d"/>
<rect x="230.47" y="687.8" width="1.5" height="1.4" fill="#4d4d4d"/>
<text transform="translate(118.5,671) rotate(-90)" x="0" y="0" font-size="7.25" font-weight="bold" text-anchor="middle" fill="#1a1a1a" stroke="#1a1a1a" stroke-width="0.18">% of vehicle control</text>
<text x="173.6" y="720.4" font-size="8.1" font-weight="normal" text-anchor="middle" fill="#000"  stroke="#000" stroke-width="0.18">2 Weeks</text>
<text x="229.8" y="720.4" font-size="8.1" font-weight="normal" text-anchor="middle" fill="#000"  stroke="#000" stroke-width="0.18">1 Month</text>
<line x1="529" y1="207.1" x2="543.3" y2="207.1" stroke="#0000ff" stroke-width="1.2"/>
<circle cx="536.15" cy="207.1" r="2.94" fill="#0000ff"/>
<text x="548.6" y="210.7" font-size="10" font-weight="normal" text-anchor="start" fill="#000"  stroke="#000" stroke-width="0.22">WT</text>
<line x1="529" y1="225.5" x2="543.3" y2="225.5" stroke="#00c400" stroke-width="1.2"/>
<rect x="533.35" y="222.7" width="5.6" height="5.6" fill="#00c400"/>
<text x="548.6" y="229.1" font-size="10" font-weight="normal" text-anchor="start" fill="#000"  stroke="#000" stroke-width="0.22">MPS I + MG01 High dose</text>
<line x1="529" y1="243.8" x2="543.3" y2="243.8" stroke="#a010e8" stroke-width="1.2"/>
<polygon points="536.15,240.64 533.28,246.24 539.02,246.24" fill="#a010e8"/>
<text x="548.6" y="247.4" font-size="10" font-weight="normal" text-anchor="start" fill="#000"  stroke="#000" stroke-width="0.22">MPS I + MG01 Low dose</text>
<line x1="529" y1="262.1" x2="543.3" y2="262.1" stroke="#ff0000" stroke-width="1.2"/>
<polygon points="536.15,265.49 533.07,259.48 539.23,259.48" fill="#ff0000"/>
<text x="548.6" y="265.7" font-size="10" font-weight="normal" text-anchor="start" fill="#000"  stroke="#000" stroke-width="0.22">MPS I + vehicle</text>
<line x1="530.2" y1="499.4" x2="543.7" y2="499.4" stroke="#0000ff" stroke-width="1.2"/>
<circle cx="536.95" cy="499.4" r="2.94" fill="#0000ff"/>
<text x="548.6" y="502.91" font-size="9.75" font-weight="normal" text-anchor="start" fill="#000"  stroke="#000" stroke-width="0.21">WT</text>
<line x1="530.2" y1="516.9" x2="543.7" y2="516.9" stroke="#00c400" stroke-width="1.2"/>
<rect x="534.15" y="514.1" width="5.6" height="5.6" fill="#00c400"/>
<text x="548.6" y="520.41" font-size="9.75" font-weight="normal" text-anchor="start" fill="#000"  stroke="#000" stroke-width="0.21">MPS VII + MG01 High dose</text>
<line x1="530.2" y1="534.5" x2="543.7" y2="534.5" stroke="#ff0000" stroke-width="1.2"/>
<polygon points="536.95,537.89 533.87,531.88 540.03,531.88" fill="#ff0000"/>
<text x="548.6" y="538.01" font-size="9.75" font-weight="normal" text-anchor="start" fill="#000"  stroke="#000" stroke-width="0.21">MPS VII + vehicle</text>
<line x1="332.2" y1="650.9" x2="346.5" y2="650.9" stroke="#0000ff" stroke-width="1.2"/>
<circle cx="339.35" cy="650.9" r="2.94" fill="#0000ff"/>
<text x="351" y="654.39" font-size="9.7" font-weight="normal" text-anchor="start" fill="#000"  stroke="#000" stroke-width="0.21">WT</text>
<line x1="332.2" y1="668.5" x2="346.5" y2="668.5" stroke="#00c400" stroke-width="1.2"/>
<rect x="336.55" y="665.7" width="5.6" height="5.6" fill="#00c400"/>
<text x="351" y="671.99" font-size="9.7" font-weight="normal" text-anchor="start" fill="#000"  stroke="#000" stroke-width="0.21">MPS VII + MG01 High dose</text>
<line x1="332.2" y1="685.2" x2="346.5" y2="685.2" stroke="#a010e8" stroke-width="1.2"/>
<polygon points="339.35,682.04 336.48,687.64 342.22,687.64" fill="#a010e8"/>
<text x="351" y="688.69" font-size="9.7" font-weight="normal" text-anchor="start" fill="#000"  stroke="#000" stroke-width="0.21">MPS VII + MG01 Low dose</text>
<line x1="332.2" y1="701.7" x2="346.5" y2="701.7" stroke="#ff0000" stroke-width="1.2"/>
<polygon points="339.35,705.09 336.27,699.08 342.43,699.08" fill="#ff0000"/>
<text x="351" y="705.19" font-size="9.7" font-weight="normal" text-anchor="start" fill="#000"  stroke="#000" stroke-width="0.21">MPS VII + vehicle</text>
<defs>
<linearGradient id="gTop" gradientUnits="userSpaceOnUse" x1="236" y1="0" x2="509" y2="0">
 <stop offset="0" stop-color="#56a2c6"/>
 <stop offset="0.22" stop-color="#6b90ae"/>
 <stop offset="0.40" stop-color="#8a85a0"/>
 <stop offset="0.58" stop-color="#a87686"/>
 <stop offset="0.75" stop-color="#c9606c"/>
 <stop offset="1" stop-color="#f84646"/>
</linearGradient>
<linearGradient id="gBot" gradientUnits="userSpaceOnUse" x1="236" y1="0" x2="509" y2="0">
 <stop offset="0" stop-color="#56a6ca"/>
 <stop offset="0.25" stop-color="#7aa1d6"/>
 <stop offset="0.55" stop-color="#a0a0e4"/>
 <stop offset="0.78" stop-color="#bca0ee"/>
 <stop offset="1" stop-color="#dca2fc"/>
</linearGradient>
<linearGradient id="gPink" gradientUnits="userSpaceOnUse" x1="548" y1="0" x2="574" y2="0">
 <stop offset="0" stop-color="#ff6a72" stop-opacity="0"/>
 <stop offset="0.55" stop-color="#ff6f76" stop-opacity="0.85"/>
 <stop offset="1" stop-color="#ff6a70"/>
</linearGradient>
<linearGradient id="gLiq" gradientUnits="userSpaceOnUse" x1="517" y1="0" x2="540" y2="0">
 <stop offset="0" stop-color="#fbd23a"/>
 <stop offset="0.5" stop-color="#fccf2e"/>
 <stop offset="0.55" stop-color="#f6c21c"/>
 <stop offset="1" stop-color="#f2bb18"/>
</linearGradient>
</defs>
<path d="M222 46.5H495.2V41.8L508.8 55.1L495.2 68.4V63.9H222Z" fill="url(#gTop)"/>
<path d="M222 88.1H495.6V83.1L509 96.6L495.6 110.1V104.7H222Z" fill="url(#gBot)"/>
<rect x="138" y="45.9" width="101.5" height="62.6" rx="15" fill="#fff" stroke="#56a2c6" stroke-width="3.4"/>
<text x="187.4" y="70.8" font-size="13" font-weight="normal" text-anchor="middle" fill="#111"  stroke="#111" stroke-width="0.29">ICV delivery</text>
<text x="187.4" y="81" font-size="9.5" font-weight="normal" text-anchor="middle" fill="#111"  stroke="#111" stroke-width="0.21">High dose: 1.4M</text>
<text x="187.4" y="90.6" font-size="9.5" font-weight="normal" text-anchor="middle" fill="#111"  stroke="#111" stroke-width="0.21">Low dose: 400k</text>
<rect x="257.9" y="47.9" width="40" height="14.4" rx="3.5" fill="#fff"/>
<text x="277.9" y="57.7" font-size="6.7" font-weight="bold" text-anchor="middle" fill="#111"  stroke="#111" stroke-width="0.07">1 month</text>
<rect x="338.4" y="47.9" width="40" height="14.4" rx="3.5" fill="#fff"/>
<text x="358.4" y="57.7" font-size="6.7" font-weight="bold" text-anchor="middle" fill="#111"  stroke="#111" stroke-width="0.07">5 months</text>
<rect x="421.8" y="48.1" width="39.8" height="14.1" rx="3.5" fill="#fff"/>
<text x="441.7" y="57.6" font-size="6.7" font-weight="bold" text-anchor="middle" fill="#111"  stroke="#111" stroke-width="0.07">8 months</text>
<rect x="257.8" y="89.5" width="39.8" height="13.9" rx="3.5" fill="#fff"/>
<text x="277.7" y="98.8" font-size="6.7" font-weight="bold" text-anchor="middle" fill="#111"  stroke="#111" stroke-width="0.07">1 month</text>
<rect x="338.3" y="89.5" width="39.4" height="13.9" rx="3.5" fill="#fff"/>
<text x="358" y="98.8" font-size="6.7" font-weight="bold" text-anchor="middle" fill="#111"  stroke="#111" stroke-width="0.07">5 months</text>
<text x="277.4" y="32.1" font-size="9" font-weight="bold" text-anchor="middle" fill="#b44c5a"  stroke="#b44c5a" stroke-width="0.09">MPS I:</text>
<text x="277.4" y="41.5" font-size="9" font-weight="bold" text-anchor="middle" fill="#b44c5a"  stroke="#b44c5a" stroke-width="0.09">P21,P60</text>
<text x="358.9" y="32.1" font-size="9" font-weight="bold" text-anchor="middle" fill="#b44c5a"  stroke="#b44c5a" stroke-width="0.09">MPS I:</text>
<text x="358.9" y="41.5" font-size="9" font-weight="bold" text-anchor="middle" fill="#b44c5a"  stroke="#b44c5a" stroke-width="0.09">P21,P60</text>
<text x="441.4" y="32.1" font-size="9" font-weight="bold" text-anchor="middle" fill="#b44c5a"  stroke="#b44c5a" stroke-width="0.09">MPS I:</text>
<text x="441.4" y="41.5" font-size="9" font-weight="bold" text-anchor="middle" fill="#b44c5a"  stroke="#b44c5a" stroke-width="0.09">P21</text>
<text x="278.1" y="117.7" font-size="9" font-weight="bold" text-anchor="middle" fill="#a04ec8"  stroke="#a04ec8" stroke-width="0.09">MPS VII:</text>
<text x="278.1" y="125.9" font-size="9" font-weight="bold" text-anchor="middle" fill="#a04ec8"  stroke="#a04ec8" stroke-width="0.09">P21, P90</text>
<text x="358.9" y="117.7" font-size="9" font-weight="bold" text-anchor="middle" fill="#a04ec8"  stroke="#a04ec8" stroke-width="0.09">MPS VII:</text>
<text x="358.9" y="125.9" font-size="9" font-weight="bold" text-anchor="middle" fill="#a04ec8"  stroke="#a04ec8" stroke-width="0.09">P90</text>
<path d="M516.2 59.5H540.6L539.0 86.0Q528 89.2 518.7 86.0Z" fill="#e6ecef"/>
<path d="M516.5 64.2H540.3L539.0 86.0Q528 89.2 518.7 86.0Z" fill="url(#gLiq)"/>
<ellipse cx="528.8" cy="86" rx="10.2" ry="2.1" fill="#eba510"/>
<path d="M519 65.5L520.3 84.5" stroke="#fde58a" stroke-width="0.8" opacity="0.8"/>
<rect x="514.6" y="51.1" width="28" height="8.8" rx="2.6" fill="#3f7fcf"/>
<rect x="514.8" y="51.3" width="27.6" height="3" rx="1.5" fill="#5a95dc"/>
<line x1="517" y1="54.6" x2="517" y2="59.5" stroke="#3570bd" stroke-width="0.7"/>
<line x1="520.3" y1="54.6" x2="520.3" y2="59.5" stroke="#3570bd" stroke-width="0.7"/>
<line x1="523.6" y1="54.6" x2="523.6" y2="59.5" stroke="#3570bd" stroke-width="0.7"/>
<line x1="526.9" y1="54.6" x2="526.9" y2="59.5" stroke="#3570bd" stroke-width="0.7"/>
<line x1="530.2" y1="54.6" x2="530.2" y2="59.5" stroke="#3570bd" stroke-width="0.7"/>
<line x1="533.5" y1="54.6" x2="533.5" y2="59.5" stroke="#3570bd" stroke-width="0.7"/>
<line x1="536.8" y1="54.6" x2="536.8" y2="59.5" stroke="#3570bd" stroke-width="0.7"/>
<line x1="540.1" y1="54.6" x2="540.1" y2="59.5" stroke="#3570bd" stroke-width="0.7"/>
<text x="528.3" y="98.1" font-size="9" font-weight="normal" text-anchor="middle" fill="#5e5a36"  stroke="#5e5a36" stroke-width="0.2">Urine</text>
<path d="M548 67.1H562V64L573.4 75.3L562 86.6V82.6H548Z" fill="url(#gPink)"/>
<text x="609.3" y="73.4" font-size="10" font-weight="normal" text-anchor="middle" fill="#111"  stroke="#111" stroke-width="0.22">GAG substrate</text>
<text x="609.3" y="83.5" font-size="10" font-weight="normal" text-anchor="middle" fill="#111"  stroke="#111" stroke-width="0.22">detection</text>
<g fill="#f0b5ad" stroke="#c2dbe9" stroke-width="2"><path d="M195 27C203 28.6 212 31.2 219.8 34.2C222.8 35.6 222.2 39 218.6 38.9C212.5 38.4 203.5 35.6 196 33.4Z"/><ellipse cx="203.8" cy="21.6" rx="8.4" ry="8.3"/><path d="M150.8 19C150.6 15.8 155.5 14.6 160.5 14.9C164.5 15.2 167 17.5 167 20.3C167 23.5 164 25.2 160 25C155 24.8 151 22.2 150.8 19Z"/><path d="M161.5 17C165.5 13.2 171 11.6 178 11.3C185 11.1 192 11.2 196.5 13.8C199.8 16.5 200 23 198.6 28.5C197 33.2 191 35.8 183 35.6C175 35.4 168 33.8 164.5 29.8C161.4 26 160.6 20.5 161.5 17Z"/></g>
<g fill="#f0b5ad"><path d="M195 27C203 28.6 212 31.2 219.8 34.2C222.8 35.6 222.2 39 218.6 38.9C212.5 38.4 203.5 35.6 196 33.4Z"/><ellipse cx="203.8" cy="21.6" rx="8.4" ry="8.3"/><path d="M150.8 19C150.6 15.8 155.5 14.6 160.5 14.9C164.5 15.2 167 17.5 167 20.3C167 23.5 164 25.2 160 25C155 24.8 151 22.2 150.8 19Z"/><path d="M161.5 17C165.5 13.2 171 11.6 178 11.3C185 11.1 192 11.2 196.5 13.8C199.8 16.5 200 23 198.6 28.5C197 33.2 191 35.8 183 35.6C175 35.4 168 33.8 164.5 29.8C161.4 26 160.6 20.5 161.5 17Z"/></g>
<g>
<path d="M163.8 18.5C164.5 22 164.8 25.5 165.5 28" stroke="#e8a49b" stroke-width="0.5" fill="none"/>
<path d="M197 14.5C197.8 19 197.8 25 196.6 30" stroke="#e8a49b" stroke-width="0.5" fill="none"/>
<path d="M166.3 25.3C168.5 19.8 173.5 16.4 180.5 16C186 15.7 190.2 16.4 191 18.6C191.8 21.5 190 26 186.5 29.2C183.5 31.6 178 32 174 31.3" stroke="#93c2db" stroke-width="2.8" fill="none" stroke-linecap="round"/>
<path d="M177.8 23.6C180.2 21.2 184.6 21.3 186 23.3C185 25.4 182 26.6 179.8 26.2" stroke="#93c2db" stroke-width="1.7" fill="none" stroke-linecap="round"/>
<path d="M192.5 22C194 19 195.6 17.2 197 16.6" stroke="#93c2db" stroke-width="1.3" fill="none" stroke-linecap="round"/>
<path d="M196.5 29.2C203 30.6 210 32.8 217 35.2" stroke="#93c2db" stroke-width="1.3" fill="none" stroke-linecap="round"/>
<line x1="167.6" y1="0" x2="176.2" y2="14.6" stroke="#3a3a44" stroke-width="0.6"/>
<line x1="189.4" y1="0" x2="183.4" y2="10.2" stroke="#6a6a70" stroke-width="0.6"/>
<circle cx="175.3" cy="14.4" r="0.7" fill="#1a2a80"/>
</g>
<g transform="translate(0,0)"><path d="M117.5 45.4C124 46.5 129.5 49.5 129.6 53.5C129.7 57.5 126 58.8 118 58.2C108 57.6 98 57 89.4 56.9" stroke="#d89896" stroke-width="1.9" fill="none" stroke-linecap="round"/><path d="M98.5 50C101 51.5 103.5 53 106 54.2C108.5 55.2 111.5 55.2 113.8 53.8C114.6 52.6 113.6 51 111.5 50.2Z" fill="#e4a4a2"/><path d="M56.1 34.9C58 32 61 30 63.7 28.8C66.5 27.5 69 26.6 71.3 26.3C75 26 78 28.5 80 28.8C84 29 87 28.6 90 28.4C100 28 108 29.5 112.5 32C117 34.8 119.5 38.5 119.5 43C119.5 47 116 49.8 110 50.2L87 51.6C83 51.2 80 50.3 78 49.5C76 48.5 74.5 47.8 73.6 47.3C71.5 45.5 70.5 43.6 69.5 42.8C66 41 62.5 39.6 60.8 38.7C58.5 37.5 56.6 36.3 56.1 34.9Z" fill="#ece8e5" stroke="#cbc2b9" stroke-width="0.65"/><path d="M110 33C115.5 35 119.2 39 119.3 43.5C119.3 47.5 116 49.8 110.5 50.1L98 50.8C104 47 107.5 41 110 33Z" fill="#d8cec2"/><path d="M78.5 49.3C83 50.3 88 50.6 94 50.2" stroke="#d5ccc2" stroke-width="1.2" fill="none"/><path d="M75.8 47.3C74.2 49.3 71.2 51 67.6 51.8C65.6 52.2 64.9 53 65.6 53.7C68 54.5 71.5 54.3 73.6 53.4C76.2 52.3 78.6 50.6 79.6 49.1Z" fill="#e4a4a2"/><ellipse cx="74.2" cy="25.4" rx="2.1" ry="1.3" fill="#d9d0c7"/><ellipse cx="76.6" cy="31.5" rx="3" ry="3.6" transform="rotate(15 76.6 31.5)" fill="#e6a9a7"/><ellipse cx="77" cy="31.3" rx="1.7" ry="2.3" transform="rotate(15 77 31.3)" fill="#edbcba"/><circle cx="65.5" cy="32.9" r="0.95" fill="#b81d28"/><circle cx="56.5" cy="35" r="0.75" fill="#e6a0a0"/><path d="M57 31.5L53.5 27.5M57.5 31.5L56 27" stroke="#e6e2de" stroke-width="0.35"/><text x="82.2" y="39.3" font-size="3.6" text-anchor="middle" fill="#555">NS</text><circle cx="100.9" cy="34.2" r="14.3" fill="#f8f8f6" stroke="#4a4a4a" stroke-width="0.75"/><line x1="89.7" y1="34.6" x2="112.7" y2="34.6" stroke="#8a8a8a" stroke-width="0.7"/><rect x="94.2" y="33.3" width="13" height="2.6" rx="1.3" fill="#b8b9cc"/><path d="M95.6 30.1L106.2 40.1M106.2 30.1L95.6 40.1" stroke="#333" stroke-width="1.45"/><text x="101" y="28.4" font-size="6" font-weight="bold" font-style="italic" text-anchor="middle" fill="#ee1111">Idua</text></g>
<g transform="translate(-0.8,52.7)"><path d="M117.5 45.4C124 46.5 129.5 49.5 129.6 53.5C129.7 57.5 126 58.8 118 58.2C108 57.6 98 57 89.4 56.9" stroke="#d89896" stroke-width="1.9" fill="none" stroke-linecap="round"/><path d="M98.5 50C101 51.5 103.5 53 106 54.2C108.5 55.2 111.5 55.2 113.8 53.8C114.6 52.6 113.6 51 111.5 50.2Z" fill="#e4a4a2"/><path d="M56.1 34.9C58 32 61 30 63.7 28.8C66.5 27.5 69 26.6 71.3 26.3C75 26 78 28.5 80 28.8C84 29 87 28.6 90 28.4C100 28 108 29.5 112.5 32C117 34.8 119.5 38.5 119.5 43C119.5 47 116 49.8 110 50.2L87 51.6C83 51.2 80 50.3 78 49.5C76 48.5 74.5 47.8 73.6 47.3C71.5 45.5 70.5 43.6 69.5 42.8C66 41 62.5 39.6 60.8 38.7C58.5 37.5 56.6 36.3 56.1 34.9Z" fill="#ece8e5" stroke="#cbc2b9" stroke-width="0.65"/><path d="M110 33C115.5 35 119.2 39 119.3 43.5C119.3 47.5 116 49.8 110.5 50.1L98 50.8C104 47 107.5 41 110 33Z" fill="#d8cec2"/><path d="M78.5 49.3C83 50.3 88 50.6 94 50.2" stroke="#d5ccc2" stroke-width="1.2" fill="none"/><path d="M75.8 47.3C74.2 49.3 71.2 51 67.6 51.8C65.6 52.2 64.9 53 65.6 53.7C68 54.5 71.5 54.3 73.6 53.4C76.2 52.3 78.6 50.6 79.6 49.1Z" fill="#e4a4a2"/><ellipse cx="74.2" cy="25.4" rx="2.1" ry="1.3" fill="#d9d0c7"/><ellipse cx="76.6" cy="31.5" rx="3" ry="3.6" transform="rotate(15 76.6 31.5)" fill="#e6a9a7"/><ellipse cx="77" cy="31.3" rx="1.7" ry="2.3" transform="rotate(15 77 31.3)" fill="#edbcba"/><circle cx="65.5" cy="32.9" r="0.95" fill="#b81d28"/><circle cx="56.5" cy="35" r="0.75" fill="#e6a0a0"/><path d="M57 31.5L53.5 27.5M57.5 31.5L56 27" stroke="#e6e2de" stroke-width="0.35"/><text x="82.2" y="39.3" font-size="3.6" text-anchor="middle" fill="#555">NS</text><circle cx="100.9" cy="34.2" r="14.3" fill="#f8f8f6" stroke="#4a4a4a" stroke-width="0.75"/><line x1="89.7" y1="34.6" x2="112.7" y2="34.6" stroke="#8a8a8a" stroke-width="0.7"/><rect x="94.2" y="33.3" width="13" height="2.6" rx="1.3" fill="#b8b9cc"/><path d="M95.6 30.1L106.2 40.1M106.2 30.1L95.6 40.1" stroke="#333" stroke-width="1.45"/><text x="101" y="28.4" font-size="6.4" font-weight="bold" font-style="italic" text-anchor="middle" fill="#a020e8">Gusb</text></g>
<text x="69.2" y="68.6" font-size="6.55" font-weight="bold" fill="#111" stroke="#111" stroke-width="0.12">MPS I: NS-<tspan font-style="italic">Idua</tspan><tspan font-size="4.4" dy="-2.6">-/-</tspan></text>
<text x="61.9" y="121.6" font-size="6.55" font-weight="bold" fill="#111" stroke="#111" stroke-width="0.12">MPS VII: NS-<tspan font-style="italic">Gusb</tspan><tspan font-size="4.4" dy="-2.6">-/-</tspan></text>
</svg>
</body></html>
